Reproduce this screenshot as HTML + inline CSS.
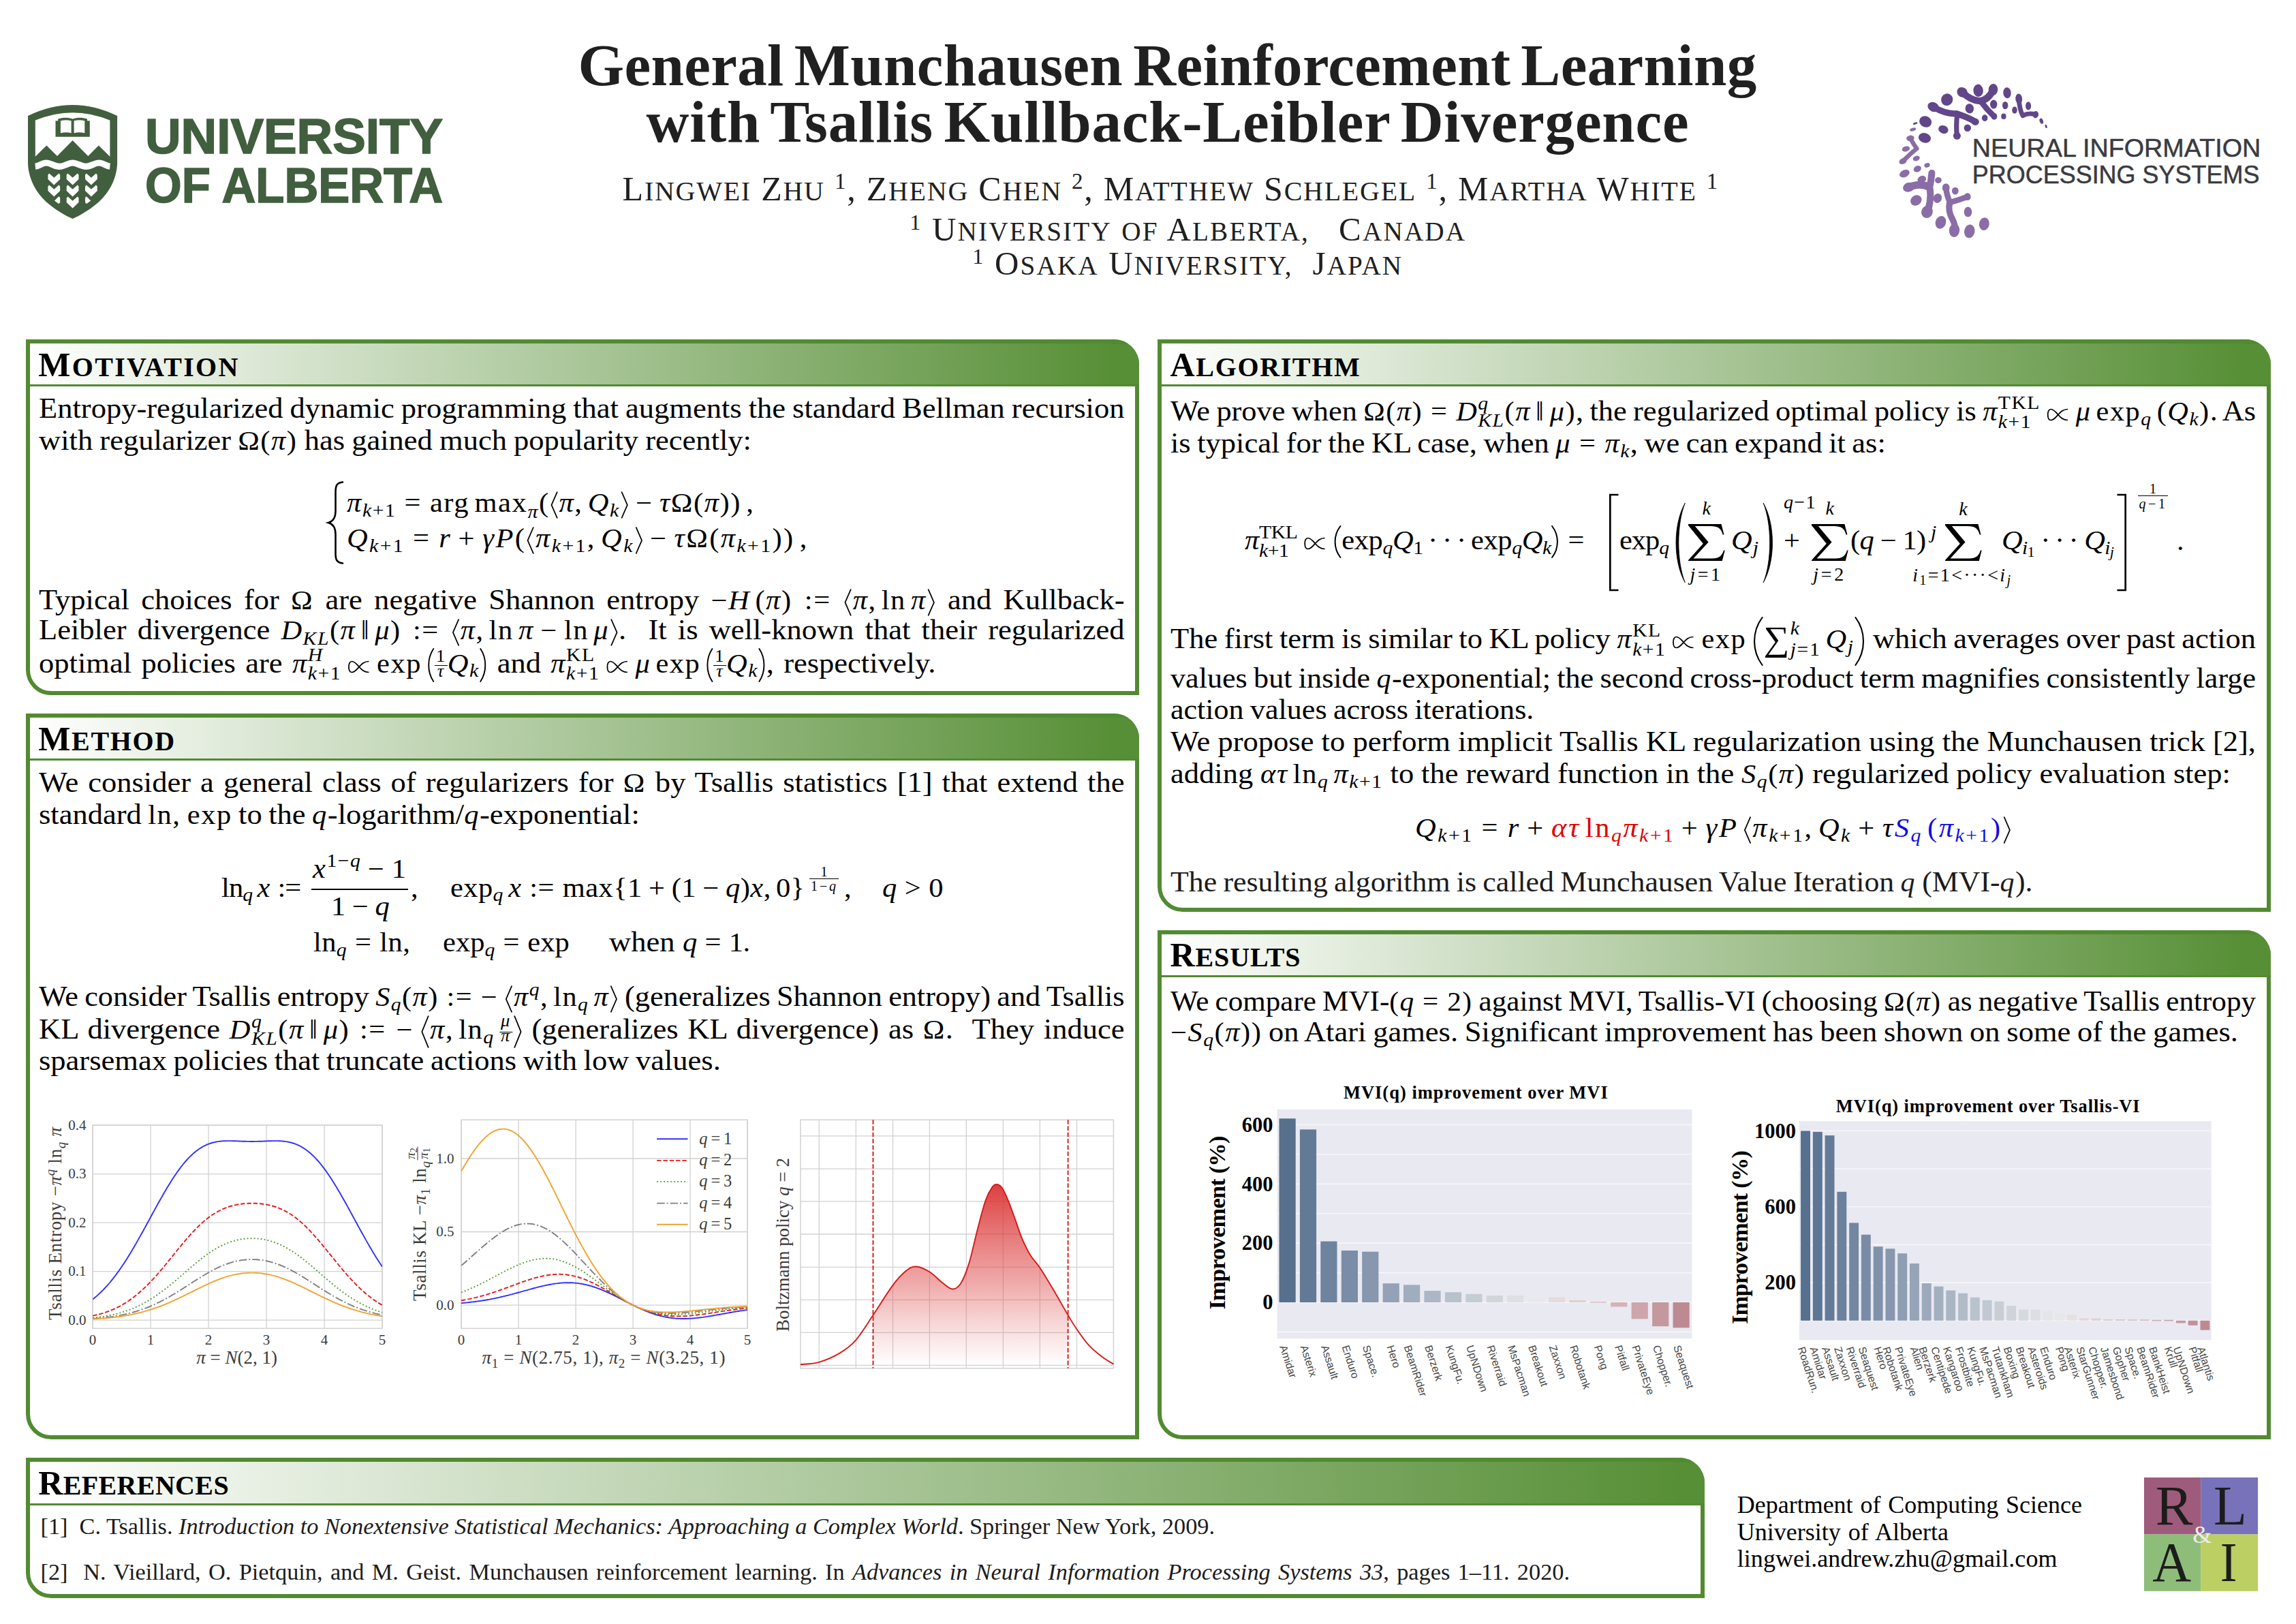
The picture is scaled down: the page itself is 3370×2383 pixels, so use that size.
<!DOCTYPE html><html><head><meta charset="utf-8"><title>General Munchausen Reinforcement Learning with Tsallis Kullback-Leibler Divergence</title><style>

html,body{margin:0;padding:0;background:#fff}
#pg{position:relative;width:3370px;height:2383px;overflow:hidden;background:#fff;font-family:"Liberation Serif",serif;color:#000}
.ln{position:absolute;transform-origin:0 0;height:200px;line-height:200px;white-space:nowrap;font-family:"Liberation Serif",serif}
.ln span,.ln i,.ln b{line-height:0}
.sb{position:relative;line-height:0}
.m{font-size:0.955em;letter-spacing:calc(0.035em + var(--ls,0px))}
.ss{display:inline-block;position:relative;line-height:0}
.ss .su,.ss .sd{position:absolute;left:0;line-height:0;white-space:nowrap}
.ss .sw{visibility:hidden;line-height:0}
svg.g{overflow:visible;display:inline-block}
.fr{display:inline-block;position:relative;line-height:0;padding:0 2px}
.fr .fw{visibility:hidden;line-height:0}
.fr .fn,.fr .fd{position:absolute;left:0;right:0;text-align:center;line-height:0;white-space:nowrap}
.fr .fb{position:absolute;left:0;right:0;height:0;border-top:1.4px solid currentColor}
.box{position:absolute;box-sizing:border-box;border:6.5px solid #528a31;border-radius:0 37px 0 37px;background:#fff;overflow:hidden}
.hd{height:60.5px;background:linear-gradient(90deg,#ffffff 0,#578f36 calc(100% - 33px),#578f36 100%);border-bottom:3.5px solid #528a31}
.abs{position:absolute}

</style></head><body><div id="pg">
<div class="box" style="left:38px;top:497.5px;width:1634px;height:522.5px"><div class="hd"></div></div>
<div class="abs" style="left:1632px;top:497.5px;width:40px;height:69.8px;background:linear-gradient(180deg,#528a31 0,#528a31 6.5px,#578f36 6.5px,#578f36 66.5px,#528a31 66.5px);border-radius:0 37px 0 0"></div>
<div class="box" style="left:38px;top:1046.5px;width:1634px;height:1065.1999999999998px"><div class="hd"></div></div>
<div class="abs" style="left:1632px;top:1046.5px;width:40px;height:69.8px;background:linear-gradient(180deg,#528a31 0,#528a31 6.5px,#578f36 6.5px,#578f36 66.5px,#528a31 66.5px);border-radius:0 37px 0 0"></div>
<div class="box" style="left:1698.5px;top:497.5px;width:1634.1px;height:840.5px"><div class="hd"></div></div>
<div class="abs" style="left:3292.6px;top:497.5px;width:40px;height:69.8px;background:linear-gradient(180deg,#528a31 0,#528a31 6.5px,#578f36 6.5px,#578f36 66.5px,#528a31 66.5px);border-radius:0 37px 0 0"></div>
<div class="box" style="left:1698.5px;top:1364.7px;width:1634.1px;height:746.9999999999998px"><div class="hd"></div></div>
<div class="abs" style="left:3292.6px;top:1364.7px;width:40px;height:69.8px;background:linear-gradient(180deg,#528a31 0,#528a31 6.5px,#578f36 6.5px,#578f36 66.5px,#528a31 66.5px);border-radius:0 37px 0 0"></div>
<div class="box" style="left:38px;top:2139px;width:2464px;height:205.80000000000018px"><div class="hd"></div></div>
<div class="abs" style="left:2462px;top:2139px;width:40px;height:69.8px;background:linear-gradient(180deg,#528a31 0,#528a31 6.5px,#578f36 6.5px,#578f36 66.5px,#528a31 66.5px);border-radius:0 37px 0 0"></div>
<svg class="abs" style="left:478px;top:704px;overflow:visible" width="30" height="126" viewBox="0 0 30 126"><path d="M25 3.5 C16 4.5 14.5 9 14.5 18 L14.5 46 C14.5 56 11 61 4 63 C11 65 14.5 70 14.5 80 L14.5 108 C14.5 117 16 121.5 25 122.5" fill="none" stroke="#000" stroke-width="2.6" stroke-linecap="round"/></svg>
<div class="abs" style="left:457.2px;top:1304px;width:141.9px;height:1.6px;background:#000"></div>
<div class="abs" style="left:1188.3px;top:1288.8px;width:43.1px;height:1.3px;background:#000"></div>
<svg class="abs" style="left:2360px;top:723px" width="18" height="146" viewBox="0 0 18 146"><path d="M15.5 3 H3.3 V143 H15.5" fill="none" stroke="#000" stroke-width="2.7"/></svg>
<svg class="abs" style="left:2453.3px;top:736.6px;overflow:visible" width="21.5" height="119" viewBox="0 0 21.5 119"><path d="M20.3 1.2 C2.6 32.1 2.6 86.9 20.3 117.8 C7.7 86.9 7.7 32.1 20.3 1.2 Z" fill="#000" stroke="#000" stroke-width="0.8" stroke-linejoin="round"/></svg>
<svg class="abs" style="left:2478px;top:768.5px" width="53.7" height="54.8" viewBox="0 0 53.7 54.8" preserveAspectRatio="none"><path d="M0 0 H48.5 L52.5 15.5 H50.6 C48.2 6.2 43.5 3 33 3 H9.8 L29.6 26.6 L7.6 50.6 H35 C45.5 50.6 49.6 46.5 52 38.6 H53.7 L49.6 54.8 H0 V53 L21.8 28.8 L0 1.9 Z" fill="#000"/></svg>
<svg class="abs" style="left:2587px;top:736.6px;overflow:visible" width="21.5" height="119" viewBox="0 0 21.5 119"><path d="M1.2 1.2 C18.9 32.1 18.9 86.9 1.2 117.8 C13.8 86.9 13.8 32.1 1.2 1.2 Z" fill="#000" stroke="#000" stroke-width="0.8" stroke-linejoin="round"/></svg>
<svg class="abs" style="left:2658.9px;top:768.5px" width="53.7" height="54.8" viewBox="0 0 53.7 54.8" preserveAspectRatio="none"><path d="M0 0 H48.5 L52.5 15.5 H50.6 C48.2 6.2 43.5 3 33 3 H9.8 L29.6 26.6 L7.6 50.6 H35 C45.5 50.6 49.6 46.5 52 38.6 H53.7 L49.6 54.8 H0 V53 L21.8 28.8 L0 1.9 Z" fill="#000"/></svg>
<svg class="abs" style="left:2855px;top:768.5px" width="53.7" height="54.8" viewBox="0 0 53.7 54.8" preserveAspectRatio="none"><path d="M0 0 H48.5 L52.5 15.5 H50.6 C48.2 6.2 43.5 3 33 3 H9.8 L29.6 26.6 L7.6 50.6 H35 C45.5 50.6 49.6 46.5 52 38.6 H53.7 L49.6 54.8 H0 V53 L21.8 28.8 L0 1.9 Z" fill="#000"/></svg>
<svg class="abs" style="left:3105px;top:723px" width="18" height="146" viewBox="0 0 18 146"><path d="M2.5 3 H14.7 V143 H2.5" fill="none" stroke="#000" stroke-width="2.7"/></svg>
<div class="abs" style="left:3138.3px;top:726.5px;width:43.4px;height:1.3px;background:#000"></div>
<svg class="abs" style="left:0;top:0" width="3370" height="2383" viewBox="0 0 3370 2383"><line x1="136.1" y1="1651.0" x2="136.1" y2="1949.3" stroke="#d2d2d2" stroke-width="1.3"/>
<line x1="221.1" y1="1651.0" x2="221.1" y2="1949.3" stroke="#d2d2d2" stroke-width="1.3"/>
<line x1="306.1" y1="1651.0" x2="306.1" y2="1949.3" stroke="#d2d2d2" stroke-width="1.3"/>
<line x1="391.1" y1="1651.0" x2="391.1" y2="1949.3" stroke="#d2d2d2" stroke-width="1.3"/>
<line x1="476.1" y1="1651.0" x2="476.1" y2="1949.3" stroke="#d2d2d2" stroke-width="1.3"/>
<line x1="561.1" y1="1651.0" x2="561.1" y2="1949.3" stroke="#d2d2d2" stroke-width="1.3"/>
<line x1="136.1" y1="1937.1" x2="561.0" y2="1937.1" stroke="#d2d2d2" stroke-width="1.3"/>
<line x1="136.1" y1="1865.6" x2="561.0" y2="1865.6" stroke="#d2d2d2" stroke-width="1.3"/>
<line x1="136.1" y1="1794.1" x2="561.0" y2="1794.1" stroke="#d2d2d2" stroke-width="1.3"/>
<line x1="136.1" y1="1722.6" x2="561.0" y2="1722.6" stroke="#d2d2d2" stroke-width="1.3"/>
<line x1="136.1" y1="1651.1" x2="561.0" y2="1651.1" stroke="#d2d2d2" stroke-width="1.3"/>
<rect x="136.1" y="1651.0" width="424.9" height="298.29999999999995" fill="none" stroke="#d2d2d2" stroke-width="1.5"/>
<clipPath id="c1"><rect x="136.1" y="1651.0" width="424.9" height="298.29999999999995"/></clipPath>
<path d="M136.1 1906.5 L137.8 1905.2 L139.5 1903.8 L141.2 1902.4 L142.9 1900.9 L144.6 1899.4 L146.3 1897.8 L148.0 1896.2 L149.7 1894.5 L151.4 1892.8 L153.1 1891.0 L154.8 1889.2 L156.5 1887.4 L158.2 1885.5 L159.9 1883.5 L161.6 1881.5 L163.3 1879.4 L165.0 1877.3 L166.7 1875.2 L168.4 1873.0 L170.1 1870.7 L171.8 1868.4 L173.5 1866.1 L175.2 1863.7 L176.9 1861.3 L178.6 1858.8 L180.3 1856.3 L182.0 1853.7 L183.7 1851.1 L185.4 1848.4 L187.1 1845.8 L188.8 1843.0 L190.5 1840.3 L192.2 1837.5 L193.9 1834.6 L195.6 1831.7 L197.3 1828.8 L199.0 1825.9 L200.7 1822.9 L202.4 1819.9 L204.1 1816.9 L205.8 1813.9 L207.5 1810.8 L209.2 1807.8 L210.9 1804.7 L212.6 1801.6 L214.3 1798.5 L216.0 1795.3 L217.7 1792.2 L219.4 1789.1 L221.1 1786.0 L222.8 1782.8 L224.5 1779.7 L226.2 1776.6 L227.9 1773.5 L229.6 1770.4 L231.3 1767.3 L233.0 1764.2 L234.7 1761.2 L236.4 1758.2 L238.1 1755.2 L239.8 1752.2 L241.5 1749.3 L243.2 1746.4 L244.9 1743.5 L246.6 1740.7 L248.3 1737.9 L250.0 1735.2 L251.7 1732.5 L253.4 1729.8 L255.1 1727.2 L256.8 1724.7 L258.5 1722.2 L260.2 1719.8 L261.9 1717.4 L263.6 1715.1 L265.3 1712.8 L267.0 1710.6 L268.7 1708.5 L270.4 1706.4 L272.1 1704.4 L273.8 1702.5 L275.5 1700.6 L277.2 1698.8 L278.9 1697.1 L280.6 1695.5 L282.3 1693.9 L284.0 1692.3 L285.7 1690.9 L287.4 1689.5 L289.1 1688.2 L290.8 1687.0 L292.5 1685.8 L294.2 1684.7 L295.9 1683.6 L297.6 1682.7 L299.3 1681.7 L301.0 1680.9 L302.7 1680.1 L304.4 1679.4 L306.1 1678.7 L307.8 1678.1 L309.5 1677.5 L311.2 1677.0 L312.9 1676.5 L314.6 1676.1 L316.3 1675.7 L318.0 1675.4 L319.7 1675.1 L321.4 1674.9 L323.1 1674.7 L324.8 1674.5 L326.5 1674.4 L328.2 1674.3 L329.9 1674.2 L331.6 1674.1 L333.3 1674.1 L335.0 1674.1 L336.7 1674.1 L338.4 1674.1 L340.1 1674.1 L341.8 1674.2 L343.5 1674.2 L345.2 1674.3 L346.9 1674.3 L348.6 1674.4 L350.3 1674.5 L352.0 1674.5 L353.7 1674.6 L355.4 1674.7 L357.1 1674.7 L358.8 1674.8 L360.5 1674.8 L362.2 1674.9 L363.9 1674.9 L365.6 1674.9 L367.3 1675.0 L369.0 1675.0 L370.7 1675.0 L372.4 1675.0 L374.1 1674.9 L375.8 1674.9 L377.5 1674.9 L379.2 1674.8 L380.9 1674.8 L382.6 1674.7 L384.3 1674.7 L386.0 1674.6 L387.7 1674.5 L389.4 1674.5 L391.1 1674.4 L392.8 1674.3 L394.5 1674.3 L396.2 1674.2 L397.9 1674.2 L399.6 1674.1 L401.3 1674.1 L403.0 1674.1 L404.7 1674.1 L406.4 1674.1 L408.1 1674.1 L409.8 1674.2 L411.5 1674.3 L413.2 1674.4 L414.9 1674.5 L416.6 1674.7 L418.3 1674.9 L420.0 1675.1 L421.7 1675.4 L423.4 1675.7 L425.1 1676.1 L426.8 1676.5 L428.5 1677.0 L430.2 1677.5 L431.9 1678.1 L433.6 1678.7 L435.3 1679.4 L437.0 1680.1 L438.7 1680.9 L440.4 1681.7 L442.1 1682.7 L443.8 1683.6 L445.5 1684.7 L447.2 1685.8 L448.9 1687.0 L450.6 1688.2 L452.3 1689.5 L454.0 1690.9 L455.7 1692.3 L457.4 1693.9 L459.1 1695.5 L460.8 1697.1 L462.5 1698.8 L464.2 1700.6 L465.9 1702.5 L467.6 1704.4 L469.3 1706.4 L471.0 1708.5 L472.7 1710.6 L474.4 1712.8 L476.1 1715.1 L477.8 1717.4 L479.5 1719.8 L481.2 1722.2 L482.9 1724.7 L484.6 1727.2 L486.3 1729.8 L488.0 1732.5 L489.7 1735.2 L491.4 1737.9 L493.1 1740.7 L494.8 1743.5 L496.5 1746.4 L498.2 1749.3 L499.9 1752.2 L501.6 1755.2 L503.3 1758.2 L505.0 1761.2 L506.7 1764.2 L508.4 1767.3 L510.1 1770.4 L511.8 1773.5 L513.5 1776.6 L515.2 1779.7 L516.9 1782.8 L518.6 1786.0 L520.3 1789.1 L522.0 1792.2 L523.7 1795.3 L525.4 1798.5 L527.1 1801.6 L528.8 1804.7 L530.5 1807.8 L532.2 1810.8 L533.9 1813.9 L535.6 1816.9 L537.3 1819.9 L539.0 1822.9 L540.7 1825.9 L542.4 1828.8 L544.1 1831.7 L545.8 1834.6 L547.5 1837.5 L549.2 1840.3 L550.9 1843.0 L552.6 1845.8 L554.3 1848.4 L556.0 1851.1 L557.7 1853.7 L559.4 1856.3 L561.1 1858.8" fill="none" stroke="#2f2fff" stroke-width="1.9" stroke-linejoin="round" clip-path="url(#c1)"/>
<path d="M136.1 1930.7 L137.8 1930.3 L139.5 1929.9 L141.2 1929.5 L142.9 1929.1 L144.6 1928.7 L146.3 1928.2 L148.0 1927.8 L149.7 1927.3 L151.4 1926.8 L153.1 1926.2 L154.8 1925.7 L156.5 1925.1 L158.2 1924.5 L159.9 1923.9 L161.6 1923.2 L163.3 1922.5 L165.0 1921.8 L166.7 1921.1 L168.4 1920.3 L170.1 1919.5 L171.8 1918.7 L173.5 1917.9 L175.2 1917.0 L176.9 1916.1 L178.6 1915.1 L180.3 1914.2 L182.0 1913.1 L183.7 1912.1 L185.4 1911.0 L187.1 1909.9 L188.8 1908.8 L190.5 1907.6 L192.2 1906.4 L193.9 1905.2 L195.6 1903.9 L197.3 1902.6 L199.0 1901.3 L200.7 1899.9 L202.4 1898.5 L204.1 1897.0 L205.8 1895.5 L207.5 1894.0 L209.2 1892.5 L210.9 1890.9 L212.6 1889.3 L214.3 1887.6 L216.0 1886.0 L217.7 1884.2 L219.4 1882.5 L221.1 1880.7 L222.8 1878.9 L224.5 1877.1 L226.2 1875.2 L227.9 1873.4 L229.6 1871.5 L231.3 1869.5 L233.0 1867.6 L234.7 1865.6 L236.4 1863.6 L238.1 1861.6 L239.8 1859.6 L241.5 1857.5 L243.2 1855.5 L244.9 1853.4 L246.6 1851.3 L248.3 1849.2 L250.0 1847.1 L251.7 1845.0 L253.4 1842.9 L255.1 1840.8 L256.8 1838.7 L258.5 1836.6 L260.2 1834.5 L261.9 1832.4 L263.6 1830.4 L265.3 1828.3 L267.0 1826.2 L268.7 1824.2 L270.4 1822.2 L272.1 1820.2 L273.8 1818.2 L275.5 1816.2 L277.2 1814.3 L278.9 1812.4 L280.6 1810.5 L282.3 1808.7 L284.0 1806.9 L285.7 1805.1 L287.4 1803.3 L289.1 1801.6 L290.8 1799.9 L292.5 1798.3 L294.2 1796.7 L295.9 1795.1 L297.6 1793.6 L299.3 1792.1 L301.0 1790.7 L302.7 1789.3 L304.4 1787.9 L306.1 1786.6 L307.8 1785.4 L309.5 1784.1 L311.2 1783.0 L312.9 1781.8 L314.6 1780.8 L316.3 1779.7 L318.0 1778.7 L319.7 1777.8 L321.4 1776.9 L323.1 1776.0 L324.8 1775.2 L326.5 1774.4 L328.2 1773.6 L329.9 1772.9 L331.6 1772.3 L333.3 1771.6 L335.0 1771.0 L336.7 1770.5 L338.4 1770.0 L340.1 1769.5 L341.8 1769.0 L343.5 1768.6 L345.2 1768.2 L346.9 1767.9 L348.6 1767.5 L350.3 1767.2 L352.0 1767.0 L353.7 1766.7 L355.4 1766.5 L357.1 1766.3 L358.8 1766.1 L360.5 1766.0 L362.2 1765.9 L363.9 1765.8 L365.6 1765.7 L367.3 1765.7 L369.0 1765.7 L370.7 1765.7 L372.4 1765.7 L374.1 1765.7 L375.8 1765.8 L377.5 1765.9 L379.2 1766.0 L380.9 1766.1 L382.6 1766.3 L384.3 1766.5 L386.0 1766.7 L387.7 1767.0 L389.4 1767.2 L391.1 1767.5 L392.8 1767.9 L394.5 1768.2 L396.2 1768.6 L397.9 1769.0 L399.6 1769.5 L401.3 1770.0 L403.0 1770.5 L404.7 1771.0 L406.4 1771.6 L408.1 1772.3 L409.8 1772.9 L411.5 1773.6 L413.2 1774.4 L414.9 1775.2 L416.6 1776.0 L418.3 1776.9 L420.0 1777.8 L421.7 1778.7 L423.4 1779.7 L425.1 1780.8 L426.8 1781.8 L428.5 1783.0 L430.2 1784.1 L431.9 1785.4 L433.6 1786.6 L435.3 1787.9 L437.0 1789.3 L438.7 1790.7 L440.4 1792.1 L442.1 1793.6 L443.8 1795.1 L445.5 1796.7 L447.2 1798.3 L448.9 1799.9 L450.6 1801.6 L452.3 1803.3 L454.0 1805.1 L455.7 1806.9 L457.4 1808.7 L459.1 1810.5 L460.8 1812.4 L462.5 1814.3 L464.2 1816.2 L465.9 1818.2 L467.6 1820.2 L469.3 1822.2 L471.0 1824.2 L472.7 1826.2 L474.4 1828.3 L476.1 1830.4 L477.8 1832.4 L479.5 1834.5 L481.2 1836.6 L482.9 1838.7 L484.6 1840.8 L486.3 1842.9 L488.0 1845.0 L489.7 1847.1 L491.4 1849.2 L493.1 1851.3 L494.8 1853.4 L496.5 1855.5 L498.2 1857.5 L499.9 1859.6 L501.6 1861.6 L503.3 1863.6 L505.0 1865.6 L506.7 1867.6 L508.4 1869.5 L510.1 1871.5 L511.8 1873.4 L513.5 1875.2 L515.2 1877.1 L516.9 1878.9 L518.6 1880.7 L520.3 1882.5 L522.0 1884.2 L523.7 1886.0 L525.4 1887.6 L527.1 1889.3 L528.8 1890.9 L530.5 1892.5 L532.2 1894.0 L533.9 1895.5 L535.6 1897.0 L537.3 1898.5 L539.0 1899.9 L540.7 1901.3 L542.4 1902.6 L544.1 1903.9 L545.8 1905.2 L547.5 1906.4 L549.2 1907.6 L550.9 1908.8 L552.6 1909.9 L554.3 1911.0 L556.0 1912.1 L557.7 1913.1 L559.4 1914.2 L561.1 1915.1" fill="none" stroke="#e31a1c" stroke-width="1.9" stroke-dasharray="6.5 2.8" stroke-linejoin="round" clip-path="url(#c1)"/>
<path d="M136.1 1933.8 L137.8 1933.7 L139.5 1933.5 L141.2 1933.3 L142.9 1933.1 L144.6 1932.8 L146.3 1932.6 L148.0 1932.4 L149.7 1932.1 L151.4 1931.9 L153.1 1931.6 L154.8 1931.3 L156.5 1931.0 L158.2 1930.7 L159.9 1930.4 L161.6 1930.0 L163.3 1929.7 L165.0 1929.3 L166.7 1928.9 L168.4 1928.5 L170.1 1928.1 L171.8 1927.7 L173.5 1927.2 L175.2 1926.7 L176.9 1926.3 L178.6 1925.8 L180.3 1925.2 L182.0 1924.7 L183.7 1924.2 L185.4 1923.6 L187.1 1923.0 L188.8 1922.4 L190.5 1921.7 L192.2 1921.1 L193.9 1920.4 L195.6 1919.7 L197.3 1919.0 L199.0 1918.2 L200.7 1917.5 L202.4 1916.7 L204.1 1915.9 L205.8 1915.0 L207.5 1914.2 L209.2 1913.3 L210.9 1912.4 L212.6 1911.5 L214.3 1910.5 L216.0 1909.5 L217.7 1908.5 L219.4 1907.5 L221.1 1906.5 L222.8 1905.4 L224.5 1904.3 L226.2 1903.2 L227.9 1902.1 L229.6 1900.9 L231.3 1899.7 L233.0 1898.5 L234.7 1897.3 L236.4 1896.1 L238.1 1894.8 L239.8 1893.5 L241.5 1892.2 L243.2 1890.9 L244.9 1889.6 L246.6 1888.2 L248.3 1886.9 L250.0 1885.5 L251.7 1884.1 L253.4 1882.7 L255.1 1881.2 L256.8 1879.8 L258.5 1878.4 L260.2 1876.9 L261.9 1875.4 L263.6 1874.0 L265.3 1872.5 L267.0 1871.0 L268.7 1869.6 L270.4 1868.1 L272.1 1866.6 L273.8 1865.1 L275.5 1863.6 L277.2 1862.2 L278.9 1860.7 L280.6 1859.3 L282.3 1857.8 L284.0 1856.4 L285.7 1854.9 L287.4 1853.5 L289.1 1852.1 L290.8 1850.8 L292.5 1849.4 L294.2 1848.0 L295.9 1846.7 L297.6 1845.4 L299.3 1844.1 L301.0 1842.8 L302.7 1841.6 L304.4 1840.4 L306.1 1839.2 L307.8 1838.0 L309.5 1836.9 L311.2 1835.8 L312.9 1834.7 L314.6 1833.7 L316.3 1832.7 L318.0 1831.7 L319.7 1830.7 L321.4 1829.8 L323.1 1828.9 L324.8 1828.1 L326.5 1827.2 L328.2 1826.4 L329.9 1825.7 L331.6 1825.0 L333.3 1824.3 L335.0 1823.6 L336.7 1823.0 L338.4 1822.4 L340.1 1821.8 L341.8 1821.3 L343.5 1820.8 L345.2 1820.4 L346.9 1819.9 L348.6 1819.5 L350.3 1819.2 L352.0 1818.8 L353.7 1818.5 L355.4 1818.3 L357.1 1818.0 L358.8 1817.8 L360.5 1817.6 L362.2 1817.5 L363.9 1817.4 L365.6 1817.3 L367.3 1817.2 L369.0 1817.2 L370.7 1817.2 L372.4 1817.2 L374.1 1817.3 L375.8 1817.4 L377.5 1817.5 L379.2 1817.6 L380.9 1817.8 L382.6 1818.0 L384.3 1818.3 L386.0 1818.5 L387.7 1818.8 L389.4 1819.2 L391.1 1819.5 L392.8 1819.9 L394.5 1820.4 L396.2 1820.8 L397.9 1821.3 L399.6 1821.8 L401.3 1822.4 L403.0 1823.0 L404.7 1823.6 L406.4 1824.3 L408.1 1825.0 L409.8 1825.7 L411.5 1826.4 L413.2 1827.2 L414.9 1828.1 L416.6 1828.9 L418.3 1829.8 L420.0 1830.7 L421.7 1831.7 L423.4 1832.7 L425.1 1833.7 L426.8 1834.7 L428.5 1835.8 L430.2 1836.9 L431.9 1838.0 L433.6 1839.2 L435.3 1840.4 L437.0 1841.6 L438.7 1842.8 L440.4 1844.1 L442.1 1845.4 L443.8 1846.7 L445.5 1848.0 L447.2 1849.4 L448.9 1850.8 L450.6 1852.1 L452.3 1853.5 L454.0 1854.9 L455.7 1856.4 L457.4 1857.8 L459.1 1859.3 L460.8 1860.7 L462.5 1862.2 L464.2 1863.6 L465.9 1865.1 L467.6 1866.6 L469.3 1868.1 L471.0 1869.6 L472.7 1871.0 L474.4 1872.5 L476.1 1874.0 L477.8 1875.4 L479.5 1876.9 L481.2 1878.4 L482.9 1879.8 L484.6 1881.2 L486.3 1882.7 L488.0 1884.1 L489.7 1885.5 L491.4 1886.9 L493.1 1888.2 L494.8 1889.6 L496.5 1890.9 L498.2 1892.2 L499.9 1893.5 L501.6 1894.8 L503.3 1896.1 L505.0 1897.3 L506.7 1898.5 L508.4 1899.7 L510.1 1900.9 L511.8 1902.1 L513.5 1903.2 L515.2 1904.3 L516.9 1905.4 L518.6 1906.5 L520.3 1907.5 L522.0 1908.5 L523.7 1909.5 L525.4 1910.5 L527.1 1911.5 L528.8 1912.4 L530.5 1913.3 L532.2 1914.2 L533.9 1915.0 L535.6 1915.9 L537.3 1916.7 L539.0 1917.5 L540.7 1918.2 L542.4 1919.0 L544.1 1919.7 L545.8 1920.4 L547.5 1921.1 L549.2 1921.7 L550.9 1922.4 L552.6 1923.0 L554.3 1923.6 L556.0 1924.2 L557.7 1924.7 L559.4 1925.2 L561.1 1925.8" fill="none" stroke="#4f9a2f" stroke-width="1.9" stroke-dasharray="1.9 3.1" stroke-linejoin="round" clip-path="url(#c1)"/>
<path d="M136.1 1934.9 L137.8 1934.8 L139.5 1934.7 L141.2 1934.5 L142.9 1934.4 L144.6 1934.3 L146.3 1934.1 L148.0 1933.9 L149.7 1933.8 L151.4 1933.6 L153.1 1933.4 L154.8 1933.2 L156.5 1933.0 L158.2 1932.8 L159.9 1932.6 L161.6 1932.4 L163.3 1932.1 L165.0 1931.9 L166.7 1931.6 L168.4 1931.4 L170.1 1931.1 L171.8 1930.8 L173.5 1930.5 L175.2 1930.2 L176.9 1929.9 L178.6 1929.5 L180.3 1929.2 L182.0 1928.8 L183.7 1928.5 L185.4 1928.1 L187.1 1927.7 L188.8 1927.3 L190.5 1926.8 L192.2 1926.4 L193.9 1925.9 L195.6 1925.5 L197.3 1925.0 L199.0 1924.5 L200.7 1924.0 L202.4 1923.4 L204.1 1922.9 L205.8 1922.3 L207.5 1921.8 L209.2 1921.2 L210.9 1920.6 L212.6 1919.9 L214.3 1919.3 L216.0 1918.6 L217.7 1918.0 L219.4 1917.3 L221.1 1916.6 L222.8 1915.8 L224.5 1915.1 L226.2 1914.3 L227.9 1913.5 L229.6 1912.8 L231.3 1911.9 L233.0 1911.1 L234.7 1910.3 L236.4 1909.4 L238.1 1908.5 L239.8 1907.7 L241.5 1906.8 L243.2 1905.8 L244.9 1904.9 L246.6 1904.0 L248.3 1903.0 L250.0 1902.0 L251.7 1901.0 L253.4 1900.0 L255.1 1899.0 L256.8 1898.0 L258.5 1897.0 L260.2 1895.9 L261.9 1894.9 L263.6 1893.8 L265.3 1892.8 L267.0 1891.7 L268.7 1890.6 L270.4 1889.5 L272.1 1888.4 L273.8 1887.4 L275.5 1886.3 L277.2 1885.2 L278.9 1884.1 L280.6 1883.0 L282.3 1881.9 L284.0 1880.8 L285.7 1879.7 L287.4 1878.6 L289.1 1877.5 L290.8 1876.5 L292.5 1875.4 L294.2 1874.4 L295.9 1873.3 L297.6 1872.3 L299.3 1871.2 L301.0 1870.2 L302.7 1869.2 L304.4 1868.3 L306.1 1867.3 L307.8 1866.3 L309.5 1865.4 L311.2 1864.5 L312.9 1863.6 L314.6 1862.7 L316.3 1861.9 L318.0 1861.0 L319.7 1860.2 L321.4 1859.4 L323.1 1858.7 L324.8 1857.9 L326.5 1857.2 L328.2 1856.5 L329.9 1855.8 L331.6 1855.2 L333.3 1854.6 L335.0 1854.0 L336.7 1853.4 L338.4 1852.9 L340.1 1852.4 L341.8 1851.9 L343.5 1851.5 L345.2 1851.0 L346.9 1850.6 L348.6 1850.3 L350.3 1849.9 L352.0 1849.6 L353.7 1849.3 L355.4 1849.1 L357.1 1848.9 L358.8 1848.7 L360.5 1848.5 L362.2 1848.3 L363.9 1848.2 L365.6 1848.1 L367.3 1848.1 L369.0 1848.1 L370.7 1848.1 L372.4 1848.1 L374.1 1848.1 L375.8 1848.2 L377.5 1848.3 L379.2 1848.5 L380.9 1848.7 L382.6 1848.9 L384.3 1849.1 L386.0 1849.3 L387.7 1849.6 L389.4 1849.9 L391.1 1850.3 L392.8 1850.6 L394.5 1851.0 L396.2 1851.5 L397.9 1851.9 L399.6 1852.4 L401.3 1852.9 L403.0 1853.4 L404.7 1854.0 L406.4 1854.6 L408.1 1855.2 L409.8 1855.8 L411.5 1856.5 L413.2 1857.2 L414.9 1857.9 L416.6 1858.7 L418.3 1859.4 L420.0 1860.2 L421.7 1861.0 L423.4 1861.9 L425.1 1862.7 L426.8 1863.6 L428.5 1864.5 L430.2 1865.4 L431.9 1866.3 L433.6 1867.3 L435.3 1868.3 L437.0 1869.2 L438.7 1870.2 L440.4 1871.2 L442.1 1872.3 L443.8 1873.3 L445.5 1874.4 L447.2 1875.4 L448.9 1876.5 L450.6 1877.5 L452.3 1878.6 L454.0 1879.7 L455.7 1880.8 L457.4 1881.9 L459.1 1883.0 L460.8 1884.1 L462.5 1885.2 L464.2 1886.3 L465.9 1887.4 L467.6 1888.4 L469.3 1889.5 L471.0 1890.6 L472.7 1891.7 L474.4 1892.8 L476.1 1893.8 L477.8 1894.9 L479.5 1895.9 L481.2 1897.0 L482.9 1898.0 L484.6 1899.0 L486.3 1900.0 L488.0 1901.0 L489.7 1902.0 L491.4 1903.0 L493.1 1904.0 L494.8 1904.9 L496.5 1905.8 L498.2 1906.8 L499.9 1907.7 L501.6 1908.5 L503.3 1909.4 L505.0 1910.3 L506.7 1911.1 L508.4 1911.9 L510.1 1912.8 L511.8 1913.5 L513.5 1914.3 L515.2 1915.1 L516.9 1915.8 L518.6 1916.6 L520.3 1917.3 L522.0 1918.0 L523.7 1918.6 L525.4 1919.3 L527.1 1919.9 L528.8 1920.6 L530.5 1921.2 L532.2 1921.8 L533.9 1922.3 L535.6 1922.9 L537.3 1923.4 L539.0 1924.0 L540.7 1924.5 L542.4 1925.0 L544.1 1925.5 L545.8 1925.9 L547.5 1926.4 L549.2 1926.8 L550.9 1927.3 L552.6 1927.7 L554.3 1928.1 L556.0 1928.5 L557.7 1928.8 L559.4 1929.2 L561.1 1929.5" fill="none" stroke="#7f7f7f" stroke-width="1.9" stroke-dasharray="11.5 3 2 3" stroke-linejoin="round" clip-path="url(#c1)"/>
<path d="M136.1 1935.5 L137.8 1935.4 L139.5 1935.3 L141.2 1935.2 L142.9 1935.1 L144.6 1935.0 L146.3 1934.9 L148.0 1934.7 L149.7 1934.6 L151.4 1934.5 L153.1 1934.3 L154.8 1934.2 L156.5 1934.0 L158.2 1933.9 L159.9 1933.7 L161.6 1933.6 L163.3 1933.4 L165.0 1933.2 L166.7 1933.0 L168.4 1932.8 L170.1 1932.6 L171.8 1932.4 L173.5 1932.2 L175.2 1931.9 L176.9 1931.7 L178.6 1931.4 L180.3 1931.2 L182.0 1930.9 L183.7 1930.6 L185.4 1930.3 L187.1 1930.0 L188.8 1929.7 L190.5 1929.4 L192.2 1929.1 L193.9 1928.7 L195.6 1928.4 L197.3 1928.0 L199.0 1927.6 L200.7 1927.3 L202.4 1926.9 L204.1 1926.4 L205.8 1926.0 L207.5 1925.6 L209.2 1925.1 L210.9 1924.7 L212.6 1924.2 L214.3 1923.7 L216.0 1923.2 L217.7 1922.7 L219.4 1922.2 L221.1 1921.7 L222.8 1921.1 L224.5 1920.6 L226.2 1920.0 L227.9 1919.4 L229.6 1918.8 L231.3 1918.2 L233.0 1917.6 L234.7 1917.0 L236.4 1916.3 L238.1 1915.7 L239.8 1915.0 L241.5 1914.3 L243.2 1913.6 L244.9 1912.9 L246.6 1912.2 L248.3 1911.5 L250.0 1910.7 L251.7 1910.0 L253.4 1909.2 L255.1 1908.5 L256.8 1907.7 L258.5 1906.9 L260.2 1906.1 L261.9 1905.3 L263.6 1904.5 L265.3 1903.7 L267.0 1902.9 L268.7 1902.0 L270.4 1901.2 L272.1 1900.4 L273.8 1899.5 L275.5 1898.7 L277.2 1897.8 L278.9 1897.0 L280.6 1896.1 L282.3 1895.3 L284.0 1894.4 L285.7 1893.6 L287.4 1892.7 L289.1 1891.9 L290.8 1891.0 L292.5 1890.2 L294.2 1889.4 L295.9 1888.5 L297.6 1887.7 L299.3 1886.9 L301.0 1886.1 L302.7 1885.3 L304.4 1884.5 L306.1 1883.7 L307.8 1882.9 L309.5 1882.2 L311.2 1881.4 L312.9 1880.7 L314.6 1880.0 L316.3 1879.3 L318.0 1878.6 L319.7 1877.9 L321.4 1877.3 L323.1 1876.6 L324.8 1876.0 L326.5 1875.4 L328.2 1874.8 L329.9 1874.3 L331.6 1873.7 L333.3 1873.2 L335.0 1872.7 L336.7 1872.2 L338.4 1871.8 L340.1 1871.4 L341.8 1870.9 L343.5 1870.6 L345.2 1870.2 L346.9 1869.8 L348.6 1869.5 L350.3 1869.2 L352.0 1869.0 L353.7 1868.7 L355.4 1868.5 L357.1 1868.3 L358.8 1868.1 L360.5 1868.0 L362.2 1867.8 L363.9 1867.7 L365.6 1867.7 L367.3 1867.6 L369.0 1867.6 L370.7 1867.6 L372.4 1867.6 L374.1 1867.7 L375.8 1867.7 L377.5 1867.8 L379.2 1868.0 L380.9 1868.1 L382.6 1868.3 L384.3 1868.5 L386.0 1868.7 L387.7 1869.0 L389.4 1869.2 L391.1 1869.5 L392.8 1869.8 L394.5 1870.2 L396.2 1870.6 L397.9 1870.9 L399.6 1871.4 L401.3 1871.8 L403.0 1872.2 L404.7 1872.7 L406.4 1873.2 L408.1 1873.7 L409.8 1874.3 L411.5 1874.8 L413.2 1875.4 L414.9 1876.0 L416.6 1876.6 L418.3 1877.3 L420.0 1877.9 L421.7 1878.6 L423.4 1879.3 L425.1 1880.0 L426.8 1880.7 L428.5 1881.4 L430.2 1882.2 L431.9 1882.9 L433.6 1883.7 L435.3 1884.5 L437.0 1885.3 L438.7 1886.1 L440.4 1886.9 L442.1 1887.7 L443.8 1888.5 L445.5 1889.4 L447.2 1890.2 L448.9 1891.0 L450.6 1891.9 L452.3 1892.7 L454.0 1893.6 L455.7 1894.4 L457.4 1895.3 L459.1 1896.1 L460.8 1897.0 L462.5 1897.8 L464.2 1898.7 L465.9 1899.5 L467.6 1900.4 L469.3 1901.2 L471.0 1902.0 L472.7 1902.9 L474.4 1903.7 L476.1 1904.5 L477.8 1905.3 L479.5 1906.1 L481.2 1906.9 L482.9 1907.7 L484.6 1908.5 L486.3 1909.2 L488.0 1910.0 L489.7 1910.7 L491.4 1911.5 L493.1 1912.2 L494.8 1912.9 L496.5 1913.6 L498.2 1914.3 L499.9 1915.0 L501.6 1915.7 L503.3 1916.3 L505.0 1917.0 L506.7 1917.6 L508.4 1918.2 L510.1 1918.8 L511.8 1919.4 L513.5 1920.0 L515.2 1920.6 L516.9 1921.1 L518.6 1921.7 L520.3 1922.2 L522.0 1922.7 L523.7 1923.2 L525.4 1923.7 L527.1 1924.2 L528.8 1924.7 L530.5 1925.1 L532.2 1925.6 L533.9 1926.0 L535.6 1926.4 L537.3 1926.9 L539.0 1927.3 L540.7 1927.6 L542.4 1928.0 L544.1 1928.4 L545.8 1928.7 L547.5 1929.1 L549.2 1929.4 L550.9 1929.7 L552.6 1930.0 L554.3 1930.3 L556.0 1930.6 L557.7 1930.9 L559.4 1931.2 L561.1 1931.4" fill="none" stroke="#f0a22e" stroke-width="1.9" stroke-linejoin="round" clip-path="url(#c1)"/>
<text x="136.1" y="1972.6" font-family="Liberation Serif" font-size="21" text-anchor="middle" fill="#3a3a3a" >0</text>
<text x="221.1" y="1972.6" font-family="Liberation Serif" font-size="21" text-anchor="middle" fill="#3a3a3a" >1</text>
<text x="306.1" y="1972.6" font-family="Liberation Serif" font-size="21" text-anchor="middle" fill="#3a3a3a" >2</text>
<text x="391.1" y="1972.6" font-family="Liberation Serif" font-size="21" text-anchor="middle" fill="#3a3a3a" >3</text>
<text x="476.1" y="1972.6" font-family="Liberation Serif" font-size="21" text-anchor="middle" fill="#3a3a3a" >4</text>
<text x="561.1" y="1972.6" font-family="Liberation Serif" font-size="21" text-anchor="middle" fill="#3a3a3a" >5</text>
<text x="126.5" y="1943.6" font-family="Liberation Serif" font-size="21" text-anchor="end" fill="#3a3a3a" >0.0</text>
<text x="126.5" y="1872.1" font-family="Liberation Serif" font-size="21" text-anchor="end" fill="#3a3a3a" >0.1</text>
<text x="126.5" y="1800.6" font-family="Liberation Serif" font-size="21" text-anchor="end" fill="#3a3a3a" >0.2</text>
<text x="126.5" y="1729.1" font-family="Liberation Serif" font-size="21" text-anchor="end" fill="#3a3a3a" >0.3</text>
<text x="126.5" y="1657.6" font-family="Liberation Serif" font-size="21" text-anchor="end" fill="#3a3a3a" >0.4</text>
<text x="347.6" y="2000.8" font-family="Liberation Serif" font-size="27" text-anchor="middle" fill="#3a3a3a" ><tspan font-style="italic">π</tspan> = <tspan font-style="italic">N</tspan>(2, 1)</text>
<text transform="translate(89.5,1795.5) rotate(-90)" font-family="Liberation Serif" font-size="27" text-anchor="middle" fill="#3a3a3a" textLength="283" lengthAdjust="spacing">Tsallis Entropy −<tspan font-style="italic">π</tspan><tspan font-size="19" dy="-10" font-style="italic">q</tspan><tspan dy="10"> ln</tspan><tspan font-size="19" dy="6" font-style="italic">q</tspan><tspan dy="-6"> </tspan><tspan font-style="italic">π</tspan></text>
<line x1="677.1" y1="1643.2" x2="677.1" y2="1949.3" stroke="#d2d2d2" stroke-width="1.3"/>
<line x1="761.1" y1="1643.2" x2="761.1" y2="1949.3" stroke="#d2d2d2" stroke-width="1.3"/>
<line x1="845.1" y1="1643.2" x2="845.1" y2="1949.3" stroke="#d2d2d2" stroke-width="1.3"/>
<line x1="929.1" y1="1643.2" x2="929.1" y2="1949.3" stroke="#d2d2d2" stroke-width="1.3"/>
<line x1="1013.1" y1="1643.2" x2="1013.1" y2="1949.3" stroke="#d2d2d2" stroke-width="1.3"/>
<line x1="1097.1" y1="1643.2" x2="1097.1" y2="1949.3" stroke="#d2d2d2" stroke-width="1.3"/>
<line x1="677.1" y1="1915.1" x2="1097.1" y2="1915.1" stroke="#d2d2d2" stroke-width="1.3"/>
<line x1="677.1" y1="1807.5" x2="1097.1" y2="1807.5" stroke="#d2d2d2" stroke-width="1.3"/>
<line x1="677.1" y1="1700.0" x2="1097.1" y2="1700.0" stroke="#d2d2d2" stroke-width="1.3"/>
<rect x="677.1" y="1643.2" width="419.9999999999999" height="306.0999999999999" fill="none" stroke="#d2d2d2" stroke-width="1.5"/>
<clipPath id="c2"><rect x="677.1" y="1643.2" width="419.9999999999999" height="306.0999999999999"/></clipPath>
<path d="M677.1 1912.2 L678.8 1912.0 L680.5 1911.9 L682.1 1911.7 L683.8 1911.6 L685.5 1911.4 L687.2 1911.2 L688.9 1911.0 L690.5 1910.8 L692.2 1910.6 L693.9 1910.4 L695.6 1910.2 L697.3 1910.0 L698.9 1909.8 L700.6 1909.6 L702.3 1909.3 L704.0 1909.1 L705.7 1908.8 L707.3 1908.6 L709.0 1908.3 L710.7 1908.0 L712.4 1907.8 L714.1 1907.5 L715.7 1907.2 L717.4 1906.9 L719.1 1906.6 L720.8 1906.2 L722.5 1905.9 L724.1 1905.6 L725.8 1905.2 L727.5 1904.9 L729.2 1904.5 L730.9 1904.2 L732.5 1903.8 L734.2 1903.4 L735.9 1903.0 L737.6 1902.6 L739.3 1902.2 L740.9 1901.8 L742.6 1901.4 L744.3 1901.0 L746.0 1900.6 L747.7 1900.1 L749.3 1899.7 L751.0 1899.3 L752.7 1898.8 L754.4 1898.4 L756.1 1897.9 L757.7 1897.5 L759.4 1897.0 L761.1 1896.5 L762.8 1896.1 L764.5 1895.6 L766.1 1895.1 L767.8 1894.7 L769.5 1894.2 L771.2 1893.7 L772.9 1893.3 L774.5 1892.8 L776.2 1892.3 L777.9 1891.9 L779.6 1891.4 L781.3 1891.0 L782.9 1890.5 L784.6 1890.0 L786.3 1889.6 L788.0 1889.2 L789.7 1888.7 L791.3 1888.3 L793.0 1887.9 L794.7 1887.5 L796.4 1887.1 L798.1 1886.7 L799.7 1886.3 L801.4 1886.0 L803.1 1885.6 L804.8 1885.3 L806.5 1885.0 L808.1 1884.7 L809.8 1884.4 L811.5 1884.1 L813.2 1883.8 L814.9 1883.6 L816.5 1883.4 L818.2 1883.1 L819.9 1883.0 L821.6 1882.8 L823.3 1882.6 L824.9 1882.5 L826.6 1882.4 L828.3 1882.3 L830.0 1882.2 L831.7 1882.2 L833.3 1882.2 L835.0 1882.2 L836.7 1882.2 L838.4 1882.3 L840.1 1882.3 L841.7 1882.4 L843.4 1882.6 L845.1 1882.7 L846.8 1882.9 L848.5 1883.1 L850.1 1883.3 L851.8 1883.6 L853.5 1883.8 L855.2 1884.1 L856.9 1884.5 L858.5 1884.8 L860.2 1885.2 L861.9 1885.6 L863.6 1886.0 L865.3 1886.5 L866.9 1886.9 L868.6 1887.4 L870.3 1888.0 L872.0 1888.5 L873.7 1889.1 L875.3 1889.7 L877.0 1890.3 L878.7 1890.9 L880.4 1891.5 L882.1 1892.2 L883.7 1892.9 L885.4 1893.6 L887.1 1894.3 L888.8 1895.0 L890.5 1895.8 L892.1 1896.6 L893.8 1897.3 L895.5 1898.1 L897.2 1898.9 L898.9 1899.7 L900.5 1900.6 L902.2 1901.4 L903.9 1902.2 L905.6 1903.1 L907.3 1903.9 L908.9 1904.8 L910.6 1905.7 L912.3 1906.5 L914.0 1907.4 L915.7 1908.3 L917.3 1909.1 L919.0 1910.0 L920.7 1910.9 L922.4 1911.7 L924.1 1912.6 L925.7 1913.4 L927.4 1914.3 L929.1 1915.1 L930.8 1915.9 L932.5 1916.7 L934.1 1917.6 L935.8 1918.4 L937.5 1919.1 L939.2 1919.9 L940.9 1920.7 L942.5 1921.4 L944.2 1922.1 L945.9 1922.9 L947.6 1923.6 L949.3 1924.2 L950.9 1924.9 L952.6 1925.5 L954.3 1926.2 L956.0 1926.8 L957.7 1927.4 L959.3 1927.9 L961.0 1928.5 L962.7 1929.0 L964.4 1929.5 L966.1 1930.0 L967.7 1930.4 L969.4 1930.9 L971.1 1931.3 L972.8 1931.7 L974.5 1932.1 L976.1 1932.4 L977.8 1932.7 L979.5 1933.0 L981.2 1933.3 L982.9 1933.6 L984.5 1933.8 L986.2 1934.0 L987.9 1934.2 L989.6 1934.4 L991.3 1934.6 L992.9 1934.7 L994.6 1934.8 L996.3 1934.9 L998.0 1934.9 L999.7 1935.0 L1001.3 1935.0 L1003.0 1935.0 L1004.7 1935.0 L1006.4 1935.0 L1008.1 1935.0 L1009.7 1934.9 L1011.4 1934.8 L1013.1 1934.7 L1014.8 1934.6 L1016.5 1934.5 L1018.1 1934.4 L1019.8 1934.2 L1021.5 1934.1 L1023.2 1933.9 L1024.9 1933.7 L1026.5 1933.5 L1028.2 1933.3 L1029.9 1933.1 L1031.6 1932.9 L1033.3 1932.6 L1034.9 1932.4 L1036.6 1932.1 L1038.3 1931.9 L1040.0 1931.6 L1041.7 1931.3 L1043.3 1931.1 L1045.0 1930.8 L1046.7 1930.5 L1048.4 1930.2 L1050.1 1929.9 L1051.7 1929.6 L1053.4 1929.3 L1055.1 1929.0 L1056.8 1928.7 L1058.5 1928.4 L1060.1 1928.1 L1061.8 1927.8 L1063.5 1927.5 L1065.2 1927.2 L1066.9 1926.9 L1068.5 1926.6 L1070.2 1926.3 L1071.9 1926.0 L1073.6 1925.7 L1075.3 1925.4 L1076.9 1925.1 L1078.6 1924.8 L1080.3 1924.5 L1082.0 1924.3 L1083.7 1924.0 L1085.3 1923.7 L1087.0 1923.4 L1088.7 1923.2 L1090.4 1922.9 L1092.1 1922.7 L1093.7 1922.4 L1095.4 1922.2 L1097.1 1921.9" fill="none" stroke="#2f2fff" stroke-width="1.9" stroke-linejoin="round" clip-path="url(#c2)"/>
<path d="M677.1 1908.3 L678.8 1908.0 L680.5 1907.7 L682.1 1907.4 L683.8 1907.1 L685.5 1906.7 L687.2 1906.4 L688.9 1906.1 L690.5 1905.7 L692.2 1905.3 L693.9 1904.9 L695.6 1904.6 L697.3 1904.2 L698.9 1903.8 L700.6 1903.3 L702.3 1902.9 L704.0 1902.5 L705.7 1902.0 L707.3 1901.6 L709.0 1901.1 L710.7 1900.6 L712.4 1900.1 L714.1 1899.6 L715.7 1899.1 L717.4 1898.6 L719.1 1898.1 L720.8 1897.6 L722.5 1897.0 L724.1 1896.5 L725.8 1895.9 L727.5 1895.4 L729.2 1894.8 L730.9 1894.2 L732.5 1893.6 L734.2 1893.0 L735.9 1892.4 L737.6 1891.8 L739.3 1891.2 L740.9 1890.6 L742.6 1890.0 L744.3 1889.4 L746.0 1888.8 L747.7 1888.2 L749.3 1887.5 L751.0 1886.9 L752.7 1886.3 L754.4 1885.7 L756.1 1885.1 L757.7 1884.4 L759.4 1883.8 L761.1 1883.2 L762.8 1882.6 L764.5 1882.0 L766.1 1881.4 L767.8 1880.8 L769.5 1880.2 L771.2 1879.6 L772.9 1879.1 L774.5 1878.5 L776.2 1878.0 L777.9 1877.4 L779.6 1876.9 L781.3 1876.4 L782.9 1875.9 L784.6 1875.4 L786.3 1874.9 L788.0 1874.5 L789.7 1874.0 L791.3 1873.6 L793.0 1873.2 L794.7 1872.8 L796.4 1872.5 L798.1 1872.1 L799.7 1871.8 L801.4 1871.5 L803.1 1871.2 L804.8 1871.0 L806.5 1870.7 L808.1 1870.5 L809.8 1870.3 L811.5 1870.2 L813.2 1870.1 L814.9 1870.0 L816.5 1869.9 L818.2 1869.8 L819.9 1869.8 L821.6 1869.8 L823.3 1869.9 L824.9 1869.9 L826.6 1870.0 L828.3 1870.2 L830.0 1870.3 L831.7 1870.5 L833.3 1870.7 L835.0 1871.0 L836.7 1871.3 L838.4 1871.6 L840.1 1871.9 L841.7 1872.3 L843.4 1872.7 L845.1 1873.1 L846.8 1873.5 L848.5 1874.0 L850.1 1874.5 L851.8 1875.1 L853.5 1875.6 L855.2 1876.2 L856.9 1876.8 L858.5 1877.5 L860.2 1878.1 L861.9 1878.8 L863.6 1879.5 L865.3 1880.3 L866.9 1881.0 L868.6 1881.8 L870.3 1882.6 L872.0 1883.4 L873.7 1884.3 L875.3 1885.1 L877.0 1886.0 L878.7 1886.9 L880.4 1887.8 L882.1 1888.7 L883.7 1889.6 L885.4 1890.5 L887.1 1891.5 L888.8 1892.4 L890.5 1893.4 L892.1 1894.4 L893.8 1895.3 L895.5 1896.3 L897.2 1897.3 L898.9 1898.3 L900.5 1899.3 L902.2 1900.2 L903.9 1901.2 L905.6 1902.2 L907.3 1903.2 L908.9 1904.2 L910.6 1905.1 L912.3 1906.1 L914.0 1907.0 L915.7 1908.0 L917.3 1908.9 L919.0 1909.8 L920.7 1910.7 L922.4 1911.6 L924.1 1912.5 L925.7 1913.4 L927.4 1914.3 L929.1 1915.1 L930.8 1915.9 L932.5 1916.7 L934.1 1917.5 L935.8 1918.3 L937.5 1919.0 L939.2 1919.8 L940.9 1920.5 L942.5 1921.2 L944.2 1921.8 L945.9 1922.5 L947.6 1923.1 L949.3 1923.7 L950.9 1924.3 L952.6 1924.8 L954.3 1925.4 L956.0 1925.9 L957.7 1926.4 L959.3 1926.8 L961.0 1927.3 L962.7 1927.7 L964.4 1928.1 L966.1 1928.5 L967.7 1928.8 L969.4 1929.1 L971.1 1929.4 L972.8 1929.7 L974.5 1930.0 L976.1 1930.2 L977.8 1930.4 L979.5 1930.6 L981.2 1930.8 L982.9 1930.9 L984.5 1931.0 L986.2 1931.2 L987.9 1931.2 L989.6 1931.3 L991.3 1931.4 L992.9 1931.4 L994.6 1931.4 L996.3 1931.4 L998.0 1931.4 L999.7 1931.3 L1001.3 1931.3 L1003.0 1931.2 L1004.7 1931.2 L1006.4 1931.1 L1008.1 1931.0 L1009.7 1930.8 L1011.4 1930.7 L1013.1 1930.6 L1014.8 1930.4 L1016.5 1930.2 L1018.1 1930.1 L1019.8 1929.9 L1021.5 1929.7 L1023.2 1929.5 L1024.9 1929.3 L1026.5 1929.1 L1028.2 1928.9 L1029.9 1928.6 L1031.6 1928.4 L1033.3 1928.2 L1034.9 1927.9 L1036.6 1927.7 L1038.3 1927.4 L1040.0 1927.2 L1041.7 1926.9 L1043.3 1926.7 L1045.0 1926.4 L1046.7 1926.2 L1048.4 1925.9 L1050.1 1925.7 L1051.7 1925.4 L1053.4 1925.1 L1055.1 1924.9 L1056.8 1924.6 L1058.5 1924.4 L1060.1 1924.1 L1061.8 1923.9 L1063.5 1923.6 L1065.2 1923.4 L1066.9 1923.1 L1068.5 1922.9 L1070.2 1922.7 L1071.9 1922.4 L1073.6 1922.2 L1075.3 1922.0 L1076.9 1921.8 L1078.6 1921.5 L1080.3 1921.3 L1082.0 1921.1 L1083.7 1920.9 L1085.3 1920.7 L1087.0 1920.5 L1088.7 1920.3 L1090.4 1920.1 L1092.1 1919.9 L1093.7 1919.8 L1095.4 1919.6 L1097.1 1919.4" fill="none" stroke="#e31a1c" stroke-width="1.9" stroke-dasharray="6.5 2.8" stroke-linejoin="round" clip-path="url(#c2)"/>
<path d="M677.1 1896.4 L678.8 1895.8 L680.5 1895.1 L682.1 1894.5 L683.8 1893.8 L685.5 1893.1 L687.2 1892.4 L688.9 1891.7 L690.5 1890.9 L692.2 1890.2 L693.9 1889.4 L695.6 1888.7 L697.3 1887.9 L698.9 1887.1 L700.6 1886.3 L702.3 1885.5 L704.0 1884.7 L705.7 1883.8 L707.3 1883.0 L709.0 1882.2 L710.7 1881.3 L712.4 1880.4 L714.1 1879.6 L715.7 1878.7 L717.4 1877.8 L719.1 1876.9 L720.8 1876.0 L722.5 1875.1 L724.1 1874.3 L725.8 1873.4 L727.5 1872.5 L729.2 1871.6 L730.9 1870.7 L732.5 1869.8 L734.2 1868.9 L735.9 1868.0 L737.6 1867.1 L739.3 1866.2 L740.9 1865.4 L742.6 1864.5 L744.3 1863.7 L746.0 1862.8 L747.7 1862.0 L749.3 1861.2 L751.0 1860.4 L752.7 1859.6 L754.4 1858.8 L756.1 1858.0 L757.7 1857.3 L759.4 1856.5 L761.1 1855.8 L762.8 1855.1 L764.5 1854.4 L766.1 1853.8 L767.8 1853.2 L769.5 1852.6 L771.2 1852.0 L772.9 1851.4 L774.5 1850.9 L776.2 1850.4 L777.9 1849.9 L779.6 1849.5 L781.3 1849.1 L782.9 1848.7 L784.6 1848.3 L786.3 1848.0 L788.0 1847.7 L789.7 1847.5 L791.3 1847.2 L793.0 1847.1 L794.7 1846.9 L796.4 1846.8 L798.1 1846.7 L799.7 1846.7 L801.4 1846.7 L803.1 1846.7 L804.8 1846.8 L806.5 1846.9 L808.1 1847.0 L809.8 1847.2 L811.5 1847.4 L813.2 1847.7 L814.9 1848.0 L816.5 1848.3 L818.2 1848.7 L819.9 1849.1 L821.6 1849.6 L823.3 1850.0 L824.9 1850.6 L826.6 1851.1 L828.3 1851.7 L830.0 1852.3 L831.7 1853.0 L833.3 1853.7 L835.0 1854.4 L836.7 1855.2 L838.4 1856.0 L840.1 1856.8 L841.7 1857.7 L843.4 1858.5 L845.1 1859.4 L846.8 1860.4 L848.5 1861.4 L850.1 1862.3 L851.8 1863.4 L853.5 1864.4 L855.2 1865.5 L856.9 1866.5 L858.5 1867.6 L860.2 1868.8 L861.9 1869.9 L863.6 1871.0 L865.3 1872.2 L866.9 1873.4 L868.6 1874.6 L870.3 1875.8 L872.0 1877.0 L873.7 1878.2 L875.3 1879.5 L877.0 1880.7 L878.7 1881.9 L880.4 1883.2 L882.1 1884.4 L883.7 1885.6 L885.4 1886.9 L887.1 1888.1 L888.8 1889.4 L890.5 1890.6 L892.1 1891.8 L893.8 1893.0 L895.5 1894.2 L897.2 1895.4 L898.9 1896.6 L900.5 1897.8 L902.2 1899.0 L903.9 1900.1 L905.6 1901.2 L907.3 1902.4 L908.9 1903.5 L910.6 1904.5 L912.3 1905.6 L914.0 1906.7 L915.7 1907.7 L917.3 1908.7 L919.0 1909.7 L920.7 1910.6 L922.4 1911.6 L924.1 1912.5 L925.7 1913.4 L927.4 1914.3 L929.1 1915.1 L930.8 1915.9 L932.5 1916.7 L934.1 1917.5 L935.8 1918.2 L937.5 1918.9 L939.2 1919.6 L940.9 1920.3 L942.5 1920.9 L944.2 1921.5 L945.9 1922.1 L947.6 1922.7 L949.3 1923.2 L950.9 1923.7 L952.6 1924.2 L954.3 1924.7 L956.0 1925.1 L957.7 1925.5 L959.3 1925.9 L961.0 1926.2 L962.7 1926.6 L964.4 1926.9 L966.1 1927.1 L967.7 1927.4 L969.4 1927.6 L971.1 1927.8 L972.8 1928.0 L974.5 1928.2 L976.1 1928.4 L977.8 1928.5 L979.5 1928.6 L981.2 1928.7 L982.9 1928.7 L984.5 1928.8 L986.2 1928.8 L987.9 1928.9 L989.6 1928.9 L991.3 1928.8 L992.9 1928.8 L994.6 1928.8 L996.3 1928.7 L998.0 1928.6 L999.7 1928.6 L1001.3 1928.5 L1003.0 1928.4 L1004.7 1928.2 L1006.4 1928.1 L1008.1 1928.0 L1009.7 1927.8 L1011.4 1927.7 L1013.1 1927.5 L1014.8 1927.3 L1016.5 1927.2 L1018.1 1927.0 L1019.8 1926.8 L1021.5 1926.6 L1023.2 1926.4 L1024.9 1926.2 L1026.5 1926.0 L1028.2 1925.8 L1029.9 1925.6 L1031.6 1925.4 L1033.3 1925.1 L1034.9 1924.9 L1036.6 1924.7 L1038.3 1924.5 L1040.0 1924.3 L1041.7 1924.0 L1043.3 1923.8 L1045.0 1923.6 L1046.7 1923.4 L1048.4 1923.2 L1050.1 1923.0 L1051.7 1922.7 L1053.4 1922.5 L1055.1 1922.3 L1056.8 1922.1 L1058.5 1921.9 L1060.1 1921.7 L1061.8 1921.5 L1063.5 1921.3 L1065.2 1921.1 L1066.9 1920.9 L1068.5 1920.7 L1070.2 1920.5 L1071.9 1920.3 L1073.6 1920.2 L1075.3 1920.0 L1076.9 1919.8 L1078.6 1919.6 L1080.3 1919.5 L1082.0 1919.3 L1083.7 1919.2 L1085.3 1919.0 L1087.0 1918.9 L1088.7 1918.7 L1090.4 1918.6 L1092.1 1918.4 L1093.7 1918.3 L1095.4 1918.2 L1097.1 1918.1" fill="none" stroke="#4f9a2f" stroke-width="1.9" stroke-dasharray="1.9 3.1" stroke-linejoin="round" clip-path="url(#c2)"/>
<path d="M677.1 1857.1 L678.8 1855.6 L680.5 1854.2 L682.1 1852.7 L683.8 1851.3 L685.5 1849.8 L687.2 1848.3 L688.9 1846.8 L690.5 1845.3 L692.2 1843.8 L693.9 1842.3 L695.6 1840.8 L697.3 1839.3 L698.9 1837.9 L700.6 1836.4 L702.3 1834.9 L704.0 1833.4 L705.7 1831.9 L707.3 1830.5 L709.0 1829.0 L710.7 1827.6 L712.4 1826.2 L714.1 1824.7 L715.7 1823.3 L717.4 1822.0 L719.1 1820.6 L720.8 1819.3 L722.5 1818.0 L724.1 1816.7 L725.8 1815.4 L727.5 1814.2 L729.2 1812.9 L730.9 1811.8 L732.5 1810.6 L734.2 1809.5 L735.9 1808.4 L737.6 1807.3 L739.3 1806.3 L740.9 1805.4 L742.6 1804.4 L744.3 1803.5 L746.0 1802.7 L747.7 1801.9 L749.3 1801.1 L751.0 1800.4 L752.7 1799.7 L754.4 1799.1 L756.1 1798.5 L757.7 1797.9 L759.4 1797.5 L761.1 1797.0 L762.8 1796.7 L764.5 1796.3 L766.1 1796.1 L767.8 1795.8 L769.5 1795.7 L771.2 1795.6 L772.9 1795.5 L774.5 1795.5 L776.2 1795.6 L777.9 1795.7 L779.6 1795.8 L781.3 1796.1 L782.9 1796.3 L784.6 1796.7 L786.3 1797.1 L788.0 1797.5 L789.7 1798.0 L791.3 1798.6 L793.0 1799.2 L794.7 1799.8 L796.4 1800.6 L798.1 1801.3 L799.7 1802.1 L801.4 1803.0 L803.1 1803.9 L804.8 1804.9 L806.5 1805.9 L808.1 1807.0 L809.8 1808.1 L811.5 1809.3 L813.2 1810.5 L814.9 1811.7 L816.5 1813.0 L818.2 1814.4 L819.9 1815.7 L821.6 1817.1 L823.3 1818.6 L824.9 1820.1 L826.6 1821.6 L828.3 1823.1 L830.0 1824.7 L831.7 1826.3 L833.3 1827.9 L835.0 1829.6 L836.7 1831.2 L838.4 1832.9 L840.1 1834.7 L841.7 1836.4 L843.4 1838.2 L845.1 1839.9 L846.8 1841.7 L848.5 1843.5 L850.1 1845.3 L851.8 1847.1 L853.5 1848.9 L855.2 1850.8 L856.9 1852.6 L858.5 1854.4 L860.2 1856.2 L861.9 1858.1 L863.6 1859.9 L865.3 1861.7 L866.9 1863.5 L868.6 1865.3 L870.3 1867.1 L872.0 1868.9 L873.7 1870.6 L875.3 1872.4 L877.0 1874.1 L878.7 1875.8 L880.4 1877.5 L882.1 1879.2 L883.7 1880.9 L885.4 1882.5 L887.1 1884.1 L888.8 1885.7 L890.5 1887.3 L892.1 1888.8 L893.8 1890.4 L895.5 1891.8 L897.2 1893.3 L898.9 1894.7 L900.5 1896.1 L902.2 1897.5 L903.9 1898.9 L905.6 1900.2 L907.3 1901.5 L908.9 1902.7 L910.6 1903.9 L912.3 1905.1 L914.0 1906.3 L915.7 1907.4 L917.3 1908.5 L919.0 1909.5 L920.7 1910.5 L922.4 1911.5 L924.1 1912.5 L925.7 1913.4 L927.4 1914.3 L929.1 1915.1 L930.8 1915.9 L932.5 1916.7 L934.1 1917.4 L935.8 1918.2 L937.5 1918.8 L939.2 1919.5 L940.9 1920.1 L942.5 1920.7 L944.2 1921.3 L945.9 1921.8 L947.6 1922.3 L949.3 1922.8 L950.9 1923.2 L952.6 1923.6 L954.3 1924.0 L956.0 1924.4 L957.7 1924.7 L959.3 1925.0 L961.0 1925.3 L962.7 1925.5 L964.4 1925.8 L966.1 1926.0 L967.7 1926.2 L969.4 1926.3 L971.1 1926.5 L972.8 1926.6 L974.5 1926.7 L976.1 1926.8 L977.8 1926.9 L979.5 1926.9 L981.2 1927.0 L982.9 1927.0 L984.5 1927.0 L986.2 1927.0 L987.9 1926.9 L989.6 1926.9 L991.3 1926.8 L992.9 1926.8 L994.6 1926.7 L996.3 1926.6 L998.0 1926.5 L999.7 1926.4 L1001.3 1926.3 L1003.0 1926.2 L1004.7 1926.0 L1006.4 1925.9 L1008.1 1925.8 L1009.7 1925.6 L1011.4 1925.4 L1013.1 1925.3 L1014.8 1925.1 L1016.5 1924.9 L1018.1 1924.8 L1019.8 1924.6 L1021.5 1924.4 L1023.2 1924.2 L1024.9 1924.0 L1026.5 1923.8 L1028.2 1923.6 L1029.9 1923.4 L1031.6 1923.3 L1033.3 1923.1 L1034.9 1922.9 L1036.6 1922.7 L1038.3 1922.5 L1040.0 1922.3 L1041.7 1922.1 L1043.3 1921.9 L1045.0 1921.7 L1046.7 1921.5 L1048.4 1921.4 L1050.1 1921.2 L1051.7 1921.0 L1053.4 1920.8 L1055.1 1920.6 L1056.8 1920.5 L1058.5 1920.3 L1060.1 1920.1 L1061.8 1920.0 L1063.5 1919.8 L1065.2 1919.6 L1066.9 1919.5 L1068.5 1919.3 L1070.2 1919.2 L1071.9 1919.0 L1073.6 1918.9 L1075.3 1918.8 L1076.9 1918.6 L1078.6 1918.5 L1080.3 1918.4 L1082.0 1918.2 L1083.7 1918.1 L1085.3 1918.0 L1087.0 1917.9 L1088.7 1917.8 L1090.4 1917.7 L1092.1 1917.6 L1093.7 1917.5 L1095.4 1917.4 L1097.1 1917.3" fill="none" stroke="#7f7f7f" stroke-width="1.9" stroke-dasharray="11.5 3 2 3" stroke-linejoin="round" clip-path="url(#c2)"/>
<path d="M677.1 1718.3 L678.8 1715.4 L680.5 1712.5 L682.1 1709.7 L683.8 1706.9 L685.5 1704.2 L687.2 1701.5 L688.9 1698.8 L690.5 1696.2 L692.2 1693.7 L693.9 1691.3 L695.6 1688.9 L697.3 1686.5 L698.9 1684.3 L700.6 1682.1 L702.3 1680.0 L704.0 1677.9 L705.7 1676.0 L707.3 1674.1 L709.0 1672.3 L710.7 1670.6 L712.4 1669.0 L714.1 1667.5 L715.7 1666.1 L717.4 1664.7 L719.1 1663.5 L720.8 1662.4 L722.5 1661.3 L724.1 1660.4 L725.8 1659.5 L727.5 1658.8 L729.2 1658.2 L730.9 1657.6 L732.5 1657.2 L734.2 1656.9 L735.9 1656.7 L737.6 1656.6 L739.3 1656.6 L740.9 1656.7 L742.6 1656.9 L744.3 1657.3 L746.0 1657.7 L747.7 1658.3 L749.3 1658.9 L751.0 1659.7 L752.7 1660.5 L754.4 1661.5 L756.1 1662.6 L757.7 1663.8 L759.4 1665.0 L761.1 1666.4 L762.8 1667.9 L764.5 1669.5 L766.1 1671.2 L767.8 1672.9 L769.5 1674.8 L771.2 1676.7 L772.9 1678.8 L774.5 1680.9 L776.2 1683.1 L777.9 1685.4 L779.6 1687.7 L781.3 1690.2 L782.9 1692.7 L784.6 1695.3 L786.3 1697.9 L788.0 1700.7 L789.7 1703.4 L791.3 1706.3 L793.0 1709.2 L794.7 1712.1 L796.4 1715.1 L798.1 1718.2 L799.7 1721.3 L801.4 1724.5 L803.1 1727.6 L804.8 1730.9 L806.5 1734.1 L808.1 1737.4 L809.8 1740.7 L811.5 1744.1 L813.2 1747.4 L814.9 1750.8 L816.5 1754.2 L818.2 1757.6 L819.9 1761.0 L821.6 1764.4 L823.3 1767.9 L824.9 1771.3 L826.6 1774.7 L828.3 1778.2 L830.0 1781.6 L831.7 1785.0 L833.3 1788.4 L835.0 1791.8 L836.7 1795.1 L838.4 1798.5 L840.1 1801.8 L841.7 1805.1 L843.4 1808.4 L845.1 1811.6 L846.8 1814.9 L848.5 1818.0 L850.1 1821.2 L851.8 1824.3 L853.5 1827.4 L855.2 1830.4 L856.9 1833.4 L858.5 1836.4 L860.2 1839.3 L861.9 1842.2 L863.6 1845.0 L865.3 1847.8 L866.9 1850.5 L868.6 1853.2 L870.3 1855.9 L872.0 1858.5 L873.7 1861.0 L875.3 1863.5 L877.0 1865.9 L878.7 1868.3 L880.4 1870.6 L882.1 1872.9 L883.7 1875.1 L885.4 1877.3 L887.1 1879.4 L888.8 1881.4 L890.5 1883.4 L892.1 1885.4 L893.8 1887.3 L895.5 1889.1 L897.2 1890.9 L898.9 1892.6 L900.5 1894.3 L902.2 1895.9 L903.9 1897.5 L905.6 1899.0 L907.3 1900.5 L908.9 1901.9 L910.6 1903.2 L912.3 1904.6 L914.0 1905.8 L915.7 1907.0 L917.3 1908.2 L919.0 1909.3 L920.7 1910.4 L922.4 1911.4 L924.1 1912.4 L925.7 1913.4 L927.4 1914.2 L929.1 1915.1 L930.8 1915.9 L932.5 1916.7 L934.1 1917.4 L935.8 1918.1 L937.5 1918.8 L939.2 1919.4 L940.9 1920.0 L942.5 1920.5 L944.2 1921.0 L945.9 1921.5 L947.6 1921.9 L949.3 1922.4 L950.9 1922.7 L952.6 1923.1 L954.3 1923.4 L956.0 1923.7 L957.7 1924.0 L959.3 1924.2 L961.0 1924.5 L962.7 1924.7 L964.4 1924.8 L966.1 1925.0 L967.7 1925.1 L969.4 1925.2 L971.1 1925.3 L972.8 1925.4 L974.5 1925.5 L976.1 1925.5 L977.8 1925.5 L979.5 1925.5 L981.2 1925.5 L982.9 1925.5 L984.5 1925.5 L986.2 1925.4 L987.9 1925.4 L989.6 1925.3 L991.3 1925.3 L992.9 1925.2 L994.6 1925.1 L996.3 1925.0 L998.0 1924.9 L999.7 1924.7 L1001.3 1924.6 L1003.0 1924.5 L1004.7 1924.3 L1006.4 1924.2 L1008.1 1924.1 L1009.7 1923.9 L1011.4 1923.8 L1013.1 1923.6 L1014.8 1923.4 L1016.5 1923.3 L1018.1 1923.1 L1019.8 1922.9 L1021.5 1922.8 L1023.2 1922.6 L1024.9 1922.4 L1026.5 1922.3 L1028.2 1922.1 L1029.9 1921.9 L1031.6 1921.7 L1033.3 1921.6 L1034.9 1921.4 L1036.6 1921.2 L1038.3 1921.1 L1040.0 1920.9 L1041.7 1920.7 L1043.3 1920.6 L1045.0 1920.4 L1046.7 1920.3 L1048.4 1920.1 L1050.1 1920.0 L1051.7 1919.8 L1053.4 1919.7 L1055.1 1919.5 L1056.8 1919.4 L1058.5 1919.2 L1060.1 1919.1 L1061.8 1918.9 L1063.5 1918.8 L1065.2 1918.7 L1066.9 1918.6 L1068.5 1918.4 L1070.2 1918.3 L1071.9 1918.2 L1073.6 1918.1 L1075.3 1918.0 L1076.9 1917.9 L1078.6 1917.8 L1080.3 1917.7 L1082.0 1917.6 L1083.7 1917.5 L1085.3 1917.4 L1087.0 1917.3 L1088.7 1917.2 L1090.4 1917.1 L1092.1 1917.0 L1093.7 1916.9 L1095.4 1916.9 L1097.1 1916.8" fill="none" stroke="#f0a22e" stroke-width="1.9" stroke-linejoin="round" clip-path="url(#c2)"/>
<text x="677.1" y="1972.6" font-family="Liberation Serif" font-size="21" text-anchor="middle" fill="#3a3a3a" >0</text>
<text x="761.1" y="1972.6" font-family="Liberation Serif" font-size="21" text-anchor="middle" fill="#3a3a3a" >1</text>
<text x="845.1" y="1972.6" font-family="Liberation Serif" font-size="21" text-anchor="middle" fill="#3a3a3a" >2</text>
<text x="929.1" y="1972.6" font-family="Liberation Serif" font-size="21" text-anchor="middle" fill="#3a3a3a" >3</text>
<text x="1013.1" y="1972.6" font-family="Liberation Serif" font-size="21" text-anchor="middle" fill="#3a3a3a" >4</text>
<text x="1097.1" y="1972.6" font-family="Liberation Serif" font-size="21" text-anchor="middle" fill="#3a3a3a" >5</text>
<text x="666.5" y="1921.6" font-family="Liberation Serif" font-size="21" text-anchor="end" fill="#3a3a3a" >0.0</text>
<text x="666.5" y="1814.0" font-family="Liberation Serif" font-size="21" text-anchor="end" fill="#3a3a3a" >0.5</text>
<text x="666.5" y="1706.5" font-family="Liberation Serif" font-size="21" text-anchor="end" fill="#3a3a3a" >1.0</text>
<text x="886.0" y="2000.8" font-family="Liberation Serif" font-size="27" text-anchor="middle" fill="#3a3a3a" textLength="357" lengthAdjust="spacing"><tspan font-style="italic">π</tspan><tspan font-size="19" dy="6">1</tspan><tspan dy="-6"> = </tspan><tspan font-style="italic">N</tspan>(2.75, 1), <tspan font-style="italic">π</tspan><tspan font-size="19" dy="6">2</tspan><tspan dy="-6"> = </tspan><tspan font-style="italic">N</tspan>(3.25, 1)</text>
<text transform="translate(624.5,1909) rotate(-90)" font-family="Liberation Serif" font-size="27" text-anchor="start" fill="#3a3a3a" textLength="205" lengthAdjust="spacing">Tsallis KL −<tspan font-style="italic">π</tspan><tspan font-size="19" dy="6">1</tspan><tspan dy="-6"> ln</tspan><tspan font-size="19" dy="6" font-style="italic">q</tspan><tspan dy="-6"> </tspan></text>
<g transform="translate(617,1692.5) rotate(-90)" font-family="Liberation Serif" font-size="19" fill="#3a3a3a" font-style="italic"><text x="0" y="-8" text-anchor="middle">π<tspan font-size="14" dy="3" font-style="normal">2</tspan></text><line x1="-10" y1="-4" x2="10" y2="-4" stroke="#3a3a3a" stroke-width="1"/><text x="0" y="11" text-anchor="middle">π<tspan font-size="14" dy="3" font-style="normal">1</tspan></text></g>
<line x1="964.1" y1="1671.2" x2="1009.5" y2="1671.2" stroke="#2f2fff" stroke-width="1.9"/>
<text x="1026.3" y="1678.7" font-family="Liberation Serif" font-size="24.5" text-anchor="start" fill="#3a3a3a" textLength="48" lengthAdjust="spacing"><tspan font-style="italic">q</tspan> = 1</text>
<line x1="964.1" y1="1702.9" x2="1009.5" y2="1702.9" stroke="#e31a1c" stroke-width="1.9" stroke-dasharray="6.5 2.8"/>
<text x="1026.3" y="1710.4" font-family="Liberation Serif" font-size="24.5" text-anchor="start" fill="#3a3a3a" textLength="48" lengthAdjust="spacing"><tspan font-style="italic">q</tspan> = 2</text>
<line x1="964.1" y1="1733.9" x2="1009.5" y2="1733.9" stroke="#4f9a2f" stroke-width="1.9" stroke-dasharray="1.9 3.1"/>
<text x="1026.3" y="1741.4" font-family="Liberation Serif" font-size="24.5" text-anchor="start" fill="#3a3a3a" textLength="48" lengthAdjust="spacing"><tspan font-style="italic">q</tspan> = 3</text>
<line x1="964.1" y1="1765.6" x2="1009.5" y2="1765.6" stroke="#7f7f7f" stroke-width="1.9" stroke-dasharray="11.5 3 2 3"/>
<text x="1026.3" y="1773.1" font-family="Liberation Serif" font-size="24.5" text-anchor="start" fill="#3a3a3a" textLength="48" lengthAdjust="spacing"><tspan font-style="italic">q</tspan> = 4</text>
<line x1="964.1" y1="1796.8" x2="1009.5" y2="1796.8" stroke="#f0a22e" stroke-width="1.9"/>
<text x="1026.3" y="1804.3" font-family="Liberation Serif" font-size="24.5" text-anchor="start" fill="#3a3a3a" textLength="48" lengthAdjust="spacing"><tspan font-style="italic">q</tspan> = 5</text>
<line x1="1202.2" y1="1643.2" x2="1202.2" y2="2007.8" stroke="#d2d2d2" stroke-width="1.3"/>
<line x1="1256.3" y1="1643.2" x2="1256.3" y2="2007.8" stroke="#d2d2d2" stroke-width="1.3"/>
<line x1="1310.5" y1="1643.2" x2="1310.5" y2="2007.8" stroke="#d2d2d2" stroke-width="1.3"/>
<line x1="1364.4" y1="1643.2" x2="1364.4" y2="2007.8" stroke="#d2d2d2" stroke-width="1.3"/>
<line x1="1418.3" y1="1643.2" x2="1418.3" y2="2007.8" stroke="#d2d2d2" stroke-width="1.3"/>
<line x1="1472.4" y1="1643.2" x2="1472.4" y2="2007.8" stroke="#d2d2d2" stroke-width="1.3"/>
<line x1="1526.3" y1="1643.2" x2="1526.3" y2="2007.8" stroke="#d2d2d2" stroke-width="1.3"/>
<line x1="1580.5" y1="1643.2" x2="1580.5" y2="2007.8" stroke="#d2d2d2" stroke-width="1.3"/>
<line x1="1174.9" y1="1666.8" x2="1634.4" y2="1666.8" stroke="#d2d2d2" stroke-width="1.3"/>
<line x1="1174.9" y1="1715.1" x2="1634.4" y2="1715.1" stroke="#d2d2d2" stroke-width="1.3"/>
<line x1="1174.9" y1="1762.9" x2="1634.4" y2="1762.9" stroke="#d2d2d2" stroke-width="1.3"/>
<line x1="1174.9" y1="1811.0" x2="1634.4" y2="1811.0" stroke="#d2d2d2" stroke-width="1.3"/>
<line x1="1174.9" y1="1859.3" x2="1634.4" y2="1859.3" stroke="#d2d2d2" stroke-width="1.3"/>
<line x1="1174.9" y1="1907.3" x2="1634.4" y2="1907.3" stroke="#d2d2d2" stroke-width="1.3"/>
<line x1="1174.9" y1="1955.4" x2="1634.4" y2="1955.4" stroke="#d2d2d2" stroke-width="1.3"/>
<line x1="1174.9" y1="2003.4" x2="1634.4" y2="2003.4" stroke="#d2d2d2" stroke-width="1.3"/>
<rect x="1174.9" y="1643.2" width="459.5" height="364.5999999999999" fill="none" stroke="#d2d2d2" stroke-width="1.5"/>
<defs><linearGradient id="rg" x1="0" y1="1738.0" x2="0" y2="2004.1" gradientUnits="userSpaceOnUse"><stop offset="0" stop-color="#d92a2a" stop-opacity="0.9"/><stop offset="0.55" stop-color="#dd4444" stop-opacity="0.45"/><stop offset="1" stop-color="#e06060" stop-opacity="0"/></linearGradient><clipPath id="c3"><rect x="1281.5" y="1643.2" width="286.1" height="364.5999999999999"/></clipPath></defs>
<path d="M1174.9 2002.2 C1179.4 2001.6 1192.7 2001.5 1202.2 1998.8 C1211.7 1996.1 1222.9 1991.3 1232.0 1985.9 C1241.0 1980.4 1248.1 1975.7 1256.3 1966.3 C1264.6 1957.0 1272.4 1943.2 1281.5 1929.8 C1290.5 1916.3 1302.5 1896.6 1310.5 1885.9 C1318.5 1875.1 1323.9 1869.7 1329.5 1865.1 C1335.1 1860.6 1338.3 1858.3 1344.1 1858.5 C1350.0 1858.7 1357.9 1862.4 1364.4 1866.3 C1370.9 1870.3 1377.6 1878.0 1383.2 1882.2 C1388.7 1886.4 1393.3 1891.3 1397.8 1891.5 C1402.3 1891.7 1405.9 1889.6 1410.0 1883.4 C1414.1 1877.2 1418.1 1867.2 1422.2 1854.1 C1426.3 1841.1 1430.3 1820.8 1434.4 1805.4 C1438.5 1789.9 1442.9 1772.0 1446.6 1761.5 C1450.2 1750.9 1453.6 1745.9 1456.3 1742.0 C1459.1 1738.0 1460.7 1737.8 1463.2 1738.0 C1465.6 1738.3 1468.0 1738.9 1471.0 1743.2 C1473.9 1747.5 1477.5 1756.0 1480.7 1763.9 C1484.0 1771.8 1487.2 1781.8 1490.5 1790.7 C1493.7 1799.7 1496.6 1809.0 1500.2 1817.6 C1503.9 1826.1 1508.1 1834.8 1512.4 1842.0 C1516.8 1849.1 1520.7 1851.7 1526.3 1860.2 C1532.0 1868.8 1539.7 1881.6 1546.6 1893.2 C1553.5 1904.8 1561.9 1920.2 1567.6 1929.8 C1573.2 1939.3 1575.4 1943.2 1580.5 1950.5 C1585.5 1957.8 1591.7 1967.0 1597.8 1973.7 C1603.9 1980.4 1611.2 1986.1 1617.3 1990.7 C1623.4 1995.4 1631.5 1999.9 1634.4 2001.7 L1634.4 2004.1 L1174.9 2004.1 Z" fill="url(#rg)" clip-path="url(#c3)"/>
<path d="M1174.9 2002.2 C1179.4 2001.6 1192.7 2001.5 1202.2 1998.8 C1211.7 1996.1 1222.9 1991.3 1232.0 1985.9 C1241.0 1980.4 1248.1 1975.7 1256.3 1966.3 C1264.6 1957.0 1272.4 1943.2 1281.5 1929.8 C1290.5 1916.3 1302.5 1896.6 1310.5 1885.9 C1318.5 1875.1 1323.9 1869.7 1329.5 1865.1 C1335.1 1860.6 1338.3 1858.3 1344.1 1858.5 C1350.0 1858.7 1357.9 1862.4 1364.4 1866.3 C1370.9 1870.3 1377.6 1878.0 1383.2 1882.2 C1388.7 1886.4 1393.3 1891.3 1397.8 1891.5 C1402.3 1891.7 1405.9 1889.6 1410.0 1883.4 C1414.1 1877.2 1418.1 1867.2 1422.2 1854.1 C1426.3 1841.1 1430.3 1820.8 1434.4 1805.4 C1438.5 1789.9 1442.9 1772.0 1446.6 1761.5 C1450.2 1750.9 1453.6 1745.9 1456.3 1742.0 C1459.1 1738.0 1460.7 1737.8 1463.2 1738.0 C1465.6 1738.3 1468.0 1738.9 1471.0 1743.2 C1473.9 1747.5 1477.5 1756.0 1480.7 1763.9 C1484.0 1771.8 1487.2 1781.8 1490.5 1790.7 C1493.7 1799.7 1496.6 1809.0 1500.2 1817.6 C1503.9 1826.1 1508.1 1834.8 1512.4 1842.0 C1516.8 1849.1 1520.7 1851.7 1526.3 1860.2 C1532.0 1868.8 1539.7 1881.6 1546.6 1893.2 C1553.5 1904.8 1561.9 1920.2 1567.6 1929.8 C1573.2 1939.3 1575.4 1943.2 1580.5 1950.5 C1585.5 1957.8 1591.7 1967.0 1597.8 1973.7 C1603.9 1980.4 1611.2 1986.1 1617.3 1990.7 C1623.4 1995.4 1631.5 1999.9 1634.4 2001.7" fill="none" stroke="#d81818" stroke-width="1.9"/>
<line x1="1281.5" y1="1643.2" x2="1281.5" y2="2007.8" stroke="#d81818" stroke-width="1.9" stroke-dasharray="6.5 2.8"/>
<line x1="1567.6" y1="1643.2" x2="1567.6" y2="2007.8" stroke="#d81818" stroke-width="1.9" stroke-dasharray="6.5 2.8"/>
<text transform="translate(1157.5,1826.5) rotate(-90)" font-family="Liberation Serif" font-size="27" text-anchor="middle" fill="#3a3a3a" textLength="255" lengthAdjust="spacing">Boltzmann policy <tspan font-style="italic">q</tspan> = 2</text>
<rect x="1874.5" y="1628" width="608.8" height="336.0" fill="#e9e9f2"/>
<line x1="1874.5" y1="1954.4" x2="2483.3" y2="1954.4" stroke="#f6f6fa" stroke-width="1.6"/>
<line x1="1874.5" y1="1911.0" x2="2483.3" y2="1911.0" stroke="#f6f6fa" stroke-width="1.6"/>
<line x1="1874.5" y1="1867.6" x2="2483.3" y2="1867.6" stroke="#f6f6fa" stroke-width="1.6"/>
<line x1="1874.5" y1="1824.1" x2="2483.3" y2="1824.1" stroke="#f6f6fa" stroke-width="1.6"/>
<line x1="1874.5" y1="1780.7" x2="2483.3" y2="1780.7" stroke="#f6f6fa" stroke-width="1.6"/>
<line x1="1874.5" y1="1737.3" x2="2483.3" y2="1737.3" stroke="#f6f6fa" stroke-width="1.6"/>
<line x1="1874.5" y1="1693.8" x2="2483.3" y2="1693.8" stroke="#f6f6fa" stroke-width="1.6"/>
<line x1="1874.5" y1="1650.4" x2="2483.3" y2="1650.4" stroke="#f6f6fa" stroke-width="1.6"/>
<rect x="1877.5" y="1641.3" width="24.2" height="269.7" fill="#56708e"/>
<text transform="translate(1878.1,1976.0) rotate(72)" font-family="Liberation Sans" font-size="15.6" fill="#454545">Amidar</text>
<rect x="1907.9" y="1657.4" width="24.2" height="253.6" fill="#627a96"/>
<text transform="translate(1908.5,1976.0) rotate(72)" font-family="Liberation Sans" font-size="15.6" fill="#454545">Asterix</text>
<rect x="1938.3" y="1821.5" width="24.2" height="89.5" fill="#6e849e"/>
<text transform="translate(1938.9,1976.0) rotate(72)" font-family="Liberation Sans" font-size="15.6" fill="#454545">Assault</text>
<rect x="1968.8" y="1835.0" width="24.2" height="76.0" fill="#7a8da6"/>
<text transform="translate(1969.4,1976.0) rotate(72)" font-family="Liberation Sans" font-size="15.6" fill="#454545">Enduro</text>
<rect x="1999.2" y="1836.7" width="24.2" height="74.3" fill="#8697ae"/>
<text transform="translate(1999.8,1976.0) rotate(72)" font-family="Liberation Sans" font-size="15.6" fill="#454545">Space.</text>
<rect x="2029.6" y="1883.2" width="24.2" height="27.8" fill="#93a2b6"/>
<text transform="translate(2035.2,1976.0) rotate(72)" font-family="Liberation Sans" font-size="15.6" fill="#454545">Hero</text>
<rect x="2060.0" y="1885.4" width="24.2" height="25.6" fill="#9fadbd"/>
<text transform="translate(2060.6,1976.0) rotate(72)" font-family="Liberation Sans" font-size="15.6" fill="#454545">BeamRider</text>
<rect x="2090.4" y="1894.1" width="24.2" height="16.9" fill="#acb7c5"/>
<text transform="translate(2091.0,1976.0) rotate(72)" font-family="Liberation Sans" font-size="15.6" fill="#454545">Berzerk</text>
<rect x="2120.9" y="1896.2" width="24.2" height="14.8" fill="#b8c2cc"/>
<text transform="translate(2121.5,1976.0) rotate(72)" font-family="Liberation Sans" font-size="15.6" fill="#454545">KungFu.</text>
<rect x="2151.3" y="1898.8" width="24.2" height="12.2" fill="#c5cdd4"/>
<text transform="translate(2151.9,1976.0) rotate(72)" font-family="Liberation Sans" font-size="15.6" fill="#454545">UpNDown</text>
<rect x="2181.7" y="1901.0" width="24.2" height="10.0" fill="#d1d6db"/>
<text transform="translate(2182.3,1976.0) rotate(72)" font-family="Liberation Sans" font-size="15.6" fill="#454545">Riverraid</text>
<rect x="2212.1" y="1901.0" width="24.2" height="10.0" fill="#dde0e2"/>
<text transform="translate(2212.7,1976.0) rotate(72)" font-family="Liberation Sans" font-size="15.6" fill="#454545">MsPacman</text>
<rect x="2242.5" y="1903.4" width="24.2" height="7.6" fill="#e9e9e9"/>
<text transform="translate(2243.1,1976.0) rotate(72)" font-family="Liberation Sans" font-size="15.6" fill="#454545">Breakout</text>
<rect x="2273.0" y="1903.6" width="24.2" height="7.4" fill="#e5dbdc"/>
<text transform="translate(2273.6,1976.0) rotate(72)" font-family="Liberation Sans" font-size="15.6" fill="#454545">Zaxxon</text>
<rect x="2303.4" y="1908.0" width="24.2" height="3.0" fill="#e0cecf"/>
<text transform="translate(2304.0,1976.0) rotate(72)" font-family="Liberation Sans" font-size="15.6" fill="#454545">Robotank</text>
<rect x="2333.8" y="1910.0" width="24.2" height="1.6" fill="#dcc0c2"/>
<text transform="translate(2339.4,1976.0) rotate(72)" font-family="Liberation Sans" font-size="15.6" fill="#454545">Pong</text>
<rect x="2364.2" y="1911.0" width="24.2" height="6.5" fill="#d4b3b6"/>
<text transform="translate(2369.8,1976.0) rotate(72)" font-family="Liberation Sans" font-size="15.6" fill="#454545">Pitfall</text>
<rect x="2394.6" y="1911.0" width="24.2" height="24.3" fill="#cda5aa"/>
<text transform="translate(2395.2,1976.0) rotate(72)" font-family="Liberation Sans" font-size="15.6" fill="#454545">PrivateEye</text>
<rect x="2425.1" y="1911.0" width="24.2" height="35.2" fill="#c5989d"/>
<text transform="translate(2425.7,1976.0) rotate(72)" font-family="Liberation Sans" font-size="15.6" fill="#454545">Chopper.</text>
<rect x="2455.5" y="1911.0" width="24.2" height="37.3" fill="#bd8a91"/>
<text transform="translate(2456.1,1976.0) rotate(72)" font-family="Liberation Sans" font-size="15.6" fill="#454545">Seaquest</text>
<text x="1868.6" y="1921.3" font-family="Liberation Serif" font-size="30.5" text-anchor="end" fill="#000" font-weight="bold">0</text>
<text x="1868.6" y="1834.4" font-family="Liberation Serif" font-size="30.5" text-anchor="end" fill="#000" font-weight="bold">200</text>
<text x="1868.6" y="1747.6" font-family="Liberation Serif" font-size="30.5" text-anchor="end" fill="#000" font-weight="bold">400</text>
<text x="1868.6" y="1660.7" font-family="Liberation Serif" font-size="30.5" text-anchor="end" fill="#000" font-weight="bold">600</text>
<text x="1971.9" y="1612.4" font-family="Liberation Serif" font-size="26.5" font-weight="bold" fill="#000" textLength="387.9" lengthAdjust="spacing">MVI(q) improvement over MVI</text>
<text transform="translate(1798,1794) rotate(-90)" font-family="Liberation Serif" font-size="34.5" font-weight="bold" text-anchor="middle" fill="#000" textLength="255" lengthAdjust="spacing">Improvement (%)</text>
<rect x="2640.8" y="1645.2" width="604.8" height="321.1" fill="#e9e9f2"/>
<line x1="2640.8" y1="1937.8" x2="3245.6" y2="1937.8" stroke="#f6f6fa" stroke-width="1.6"/>
<line x1="2640.8" y1="1882.1" x2="3245.6" y2="1882.1" stroke="#f6f6fa" stroke-width="1.6"/>
<line x1="2640.8" y1="1826.4" x2="3245.6" y2="1826.4" stroke="#f6f6fa" stroke-width="1.6"/>
<line x1="2640.8" y1="1770.8" x2="3245.6" y2="1770.8" stroke="#f6f6fa" stroke-width="1.6"/>
<line x1="2640.8" y1="1715.1" x2="3245.6" y2="1715.1" stroke="#f6f6fa" stroke-width="1.6"/>
<line x1="2640.8" y1="1659.4" x2="3245.6" y2="1659.4" stroke="#f6f6fa" stroke-width="1.6"/>
<rect x="2643.1" y="1659.4" width="13.9" height="278.4" fill="#56708e"/>
<text transform="translate(2638.5,1978.3) rotate(72)" font-family="Liberation Sans" font-size="15.6" fill="#454545">RoadRun.</text>
<rect x="2660.9" y="1660.8" width="13.9" height="277.0" fill="#5d7693"/>
<text transform="translate(2656.3,1978.3) rotate(72)" font-family="Liberation Sans" font-size="15.6" fill="#454545">Amidar</text>
<rect x="2678.6" y="1666.1" width="13.9" height="271.7" fill="#647b97"/>
<text transform="translate(2674.1,1978.3) rotate(72)" font-family="Liberation Sans" font-size="15.6" fill="#454545">Assault</text>
<rect x="2696.4" y="1748.8" width="13.9" height="189.0" fill="#6b819c"/>
<text transform="translate(2691.9,1978.3) rotate(72)" font-family="Liberation Sans" font-size="15.6" fill="#454545">Zaxxon</text>
<rect x="2714.2" y="1794.4" width="13.9" height="143.4" fill="#7287a0"/>
<text transform="translate(2709.6,1978.3) rotate(72)" font-family="Liberation Sans" font-size="15.6" fill="#454545">Riverraid</text>
<rect x="2731.9" y="1811.7" width="13.9" height="126.1" fill="#798ca5"/>
<text transform="translate(2727.4,1978.3) rotate(72)" font-family="Liberation Sans" font-size="15.6" fill="#454545">Seaquest</text>
<rect x="2749.7" y="1829.2" width="13.9" height="108.6" fill="#8092aa"/>
<text transform="translate(2750.2,1978.3) rotate(72)" font-family="Liberation Sans" font-size="15.6" fill="#454545">Hero</text>
<rect x="2767.5" y="1832.3" width="13.9" height="105.5" fill="#8797ae"/>
<text transform="translate(2762.9,1978.3) rotate(72)" font-family="Liberation Sans" font-size="15.6" fill="#454545">Robotank</text>
<rect x="2785.3" y="1839.2" width="13.9" height="98.6" fill="#8e9eb3"/>
<text transform="translate(2780.7,1978.3) rotate(72)" font-family="Liberation Sans" font-size="15.6" fill="#454545">PrivateEye</text>
<rect x="2803.0" y="1854.0" width="13.9" height="83.8" fill="#95a4b7"/>
<text transform="translate(2803.5,1978.3) rotate(72)" font-family="Liberation Sans" font-size="15.6" fill="#454545">Alien</text>
<rect x="2820.8" y="1883.0" width="13.9" height="54.8" fill="#9caabb"/>
<text transform="translate(2816.2,1978.3) rotate(72)" font-family="Liberation Sans" font-size="15.6" fill="#454545">Berzerk</text>
<rect x="2838.6" y="1887.7" width="13.9" height="50.1" fill="#a3b0c0"/>
<text transform="translate(2834.0,1978.3) rotate(72)" font-family="Liberation Sans" font-size="15.6" fill="#454545">Centipede</text>
<rect x="2856.3" y="1893.5" width="13.9" height="44.3" fill="#abb6c4"/>
<text transform="translate(2851.8,1978.3) rotate(72)" font-family="Liberation Sans" font-size="15.6" fill="#454545">Kangaroo</text>
<rect x="2874.1" y="1897.7" width="13.9" height="40.1" fill="#b2bcc8"/>
<text transform="translate(2869.6,1978.3) rotate(72)" font-family="Liberation Sans" font-size="15.6" fill="#454545">Frostbite</text>
<rect x="2891.9" y="1903.8" width="13.9" height="34.0" fill="#b9c3cc"/>
<text transform="translate(2887.3,1978.3) rotate(72)" font-family="Liberation Sans" font-size="15.6" fill="#454545">KungFu.</text>
<rect x="2909.7" y="1908.0" width="13.9" height="29.8" fill="#c0c9d1"/>
<text transform="translate(2905.1,1978.3) rotate(72)" font-family="Liberation Sans" font-size="15.6" fill="#454545">MsPacman</text>
<rect x="2927.4" y="1909.7" width="13.9" height="28.1" fill="#c7cfd5"/>
<text transform="translate(2922.9,1978.3) rotate(72)" font-family="Liberation Sans" font-size="15.6" fill="#454545">Tutankham</text>
<rect x="2945.2" y="1916.1" width="13.9" height="21.7" fill="#ced4d9"/>
<text transform="translate(2940.6,1978.3) rotate(72)" font-family="Liberation Sans" font-size="15.6" fill="#454545">Boxing</text>
<rect x="2963.0" y="1921.7" width="13.9" height="16.1" fill="#d5dadd"/>
<text transform="translate(2958.4,1978.3) rotate(72)" font-family="Liberation Sans" font-size="15.6" fill="#454545">Breakout</text>
<rect x="2980.7" y="1921.7" width="13.9" height="16.1" fill="#dcdfe2"/>
<text transform="translate(2976.2,1978.3) rotate(72)" font-family="Liberation Sans" font-size="15.6" fill="#454545">Asteroids</text>
<rect x="2998.5" y="1923.6" width="13.9" height="14.2" fill="#e3e5e6"/>
<text transform="translate(2993.9,1978.3) rotate(72)" font-family="Liberation Sans" font-size="15.6" fill="#454545">Enduro</text>
<rect x="3016.3" y="1926.9" width="13.9" height="10.9" fill="#e8e7e7"/>
<text transform="translate(3016.7,1978.3) rotate(72)" font-family="Liberation Sans" font-size="15.6" fill="#454545">Pong</text>
<rect x="3034.0" y="1929.2" width="13.9" height="8.6" fill="#e6e0e0"/>
<text transform="translate(3029.5,1978.3) rotate(72)" font-family="Liberation Sans" font-size="15.6" fill="#454545">Asterix</text>
<rect x="3051.8" y="1934.2" width="13.9" height="3.6" fill="#e4d8d9"/>
<text transform="translate(3047.3,1978.3) rotate(72)" font-family="Liberation Sans" font-size="15.6" fill="#454545">StarGunner</text>
<rect x="3069.6" y="1934.5" width="13.9" height="3.3" fill="#e1d0d1"/>
<text transform="translate(3065.0,1978.3) rotate(72)" font-family="Liberation Sans" font-size="15.6" fill="#454545">Chopper.</text>
<rect x="3087.3" y="1935.9" width="13.9" height="1.9" fill="#dfc8ca"/>
<text transform="translate(3082.8,1978.3) rotate(72)" font-family="Liberation Sans" font-size="15.6" fill="#454545">Jamesbond</text>
<rect x="3105.1" y="1936.1" width="13.9" height="1.7" fill="#dcc1c3"/>
<text transform="translate(3100.6,1978.3) rotate(72)" font-family="Liberation Sans" font-size="15.6" fill="#454545">Gopher</text>
<rect x="3122.9" y="1936.4" width="13.9" height="1.4" fill="#d8b9bb"/>
<text transform="translate(3118.3,1978.3) rotate(72)" font-family="Liberation Sans" font-size="15.6" fill="#454545">Space.</text>
<rect x="3140.7" y="1936.4" width="13.9" height="1.4" fill="#d3b1b4"/>
<text transform="translate(3136.1,1978.3) rotate(72)" font-family="Liberation Sans" font-size="15.6" fill="#454545">BeamRider</text>
<rect x="3158.4" y="1936.8" width="13.9" height="1.6" fill="#cfa9ad"/>
<text transform="translate(3153.9,1978.3) rotate(72)" font-family="Liberation Sans" font-size="15.6" fill="#454545">BankHeist</text>
<rect x="3176.2" y="1936.8" width="13.9" height="1.6" fill="#caa1a6"/>
<text transform="translate(3176.6,1978.3) rotate(72)" font-family="Liberation Sans" font-size="15.6" fill="#454545">Krull</text>
<rect x="3194.0" y="1937.8" width="13.9" height="3.6" fill="#c69a9f"/>
<text transform="translate(3189.4,1978.3) rotate(72)" font-family="Liberation Sans" font-size="15.6" fill="#454545">UpNDown</text>
<rect x="3211.7" y="1937.8" width="13.9" height="7.0" fill="#c19298"/>
<text transform="translate(3212.2,1978.3) rotate(72)" font-family="Liberation Sans" font-size="15.6" fill="#454545">Pitfall</text>
<rect x="3229.5" y="1937.8" width="13.9" height="13.9" fill="#bd8a91"/>
<text transform="translate(3225.0,1978.3) rotate(72)" font-family="Liberation Sans" font-size="15.6" fill="#454545">Atlantis</text>
<text x="2635.9" y="1892.4" font-family="Liberation Serif" font-size="30.5" text-anchor="end" fill="#000" font-weight="bold">200</text>
<text x="2635.9" y="1781.1" font-family="Liberation Serif" font-size="30.5" text-anchor="end" fill="#000" font-weight="bold">600</text>
<text x="2635.9" y="1669.7" font-family="Liberation Serif" font-size="30.5" text-anchor="end" fill="#000" font-weight="bold">1000</text>
<text x="2694.8" y="1632.3" font-family="Liberation Serif" font-size="26.5" font-weight="bold" fill="#000" textLength="445.9" lengthAdjust="spacing">MVI(q) improvement over Tsallis-VI</text>
<text transform="translate(2564.7,1815.5) rotate(-90)" font-family="Liberation Serif" font-size="34.5" font-weight="bold" text-anchor="middle" fill="#000" textLength="255" lengthAdjust="spacing">Improvement (%)</text></svg>
<svg class="abs" style="left:0;top:0" width="3370" height="2383" viewBox="0 0 3370 2383"><path d="M41 170 Q106.6 138 172.1 170 L172.1 239.6 C171.5 262 160 285 140 300.5 C128 310 116 317 106.6 320.9 C97 317 85 310 73 300.5 C53 285 41.6 262 41 239.6 Z" fill="#415f3e"/>
<path d="M51.8 176.6 Q106.6 153.8 161.4 176.6 L161.4 229.8 L144.8 213.6 L129.3 229 L106.6 206.1 L84 229 L68.4 213.6 L51.8 229.8 Z" fill="#fff"/>
<path d="M81.5 177.2 H85.2 V174.6 C92 172.2 100 172.2 106.6 174.4 C113.2 172.2 121.2 172.2 128 174.6 V177.2 H131.8 V200.8 H81.5 Z" fill="#415f3e"/>
<path d="M88.9 177.3 C94 175.9 100 175.9 104.6 177.2 V195.2 C100 194 94 194 88.9 195.2 Z" fill="#fff"/>
<path d="M108.6 177.2 C113.2 175.9 119.2 175.9 124.3 177.3 V195.2 C119.2 194 113.2 194 108.6 195.2 Z" fill="#fff"/>
<path d="M51.8 244.2 C58 243.6 61.5 239 67.8 239 C75 239 79 244.3 87.4 244.3 C95 244.3 99.5 239 106.6 239 C113.7 239 118.2 244.3 125.9 244.3 C134.2 244.3 138.2 239 145.4 239 C151.7 239 155.2 243.6 161.4 244.2" fill="none" stroke="#fff" stroke-width="9.2"/>
<path d="M70.39999999999999 256.4 L72.2 254.6 L79.3 260.8 L86.39999999999999 254.6 L88.2 256.4 L88.2 263.0 L79.3 271.5 L70.39999999999999 263.0 Z" fill="#fff"/>
<path d="M70.39999999999999 273.40000000000003 L72.2 271.6 L79.3 277.8 L86.39999999999999 271.6 L88.2 273.40000000000003 L88.2 280.0 L79.3 288.5 L70.39999999999999 280.0 Z" fill="#fff"/>
<path d="M97.69999999999999 256.4 L99.5 254.6 L106.6 260.8 L113.69999999999999 254.6 L115.5 256.4 L115.5 263.0 L106.6 271.5 L97.69999999999999 263.0 Z" fill="#fff"/>
<path d="M97.69999999999999 273.40000000000003 L99.5 271.6 L106.6 277.8 L113.69999999999999 271.6 L115.5 273.40000000000003 L115.5 280.0 L106.6 288.5 L97.69999999999999 280.0 Z" fill="#fff"/>
<path d="M125.0 256.4 L126.80000000000001 254.6 L133.9 260.8 L141.0 254.6 L142.8 256.4 L142.8 263.0 L133.9 271.5 L125.0 263.0 Z" fill="#fff"/>
<path d="M125.0 273.40000000000003 L126.80000000000001 271.6 L133.9 277.8 L141.0 271.6 L142.8 273.40000000000003 L142.8 280.0 L133.9 288.5 L125.0 280.0 Z" fill="#fff"/>
<path d="M97.69999999999999 290.40000000000003 L99.5 288.6 L106.6 294.8 L113.69999999999999 288.6 L115.5 290.40000000000003 L115.5 297.0 L106.6 305.5 L97.69999999999999 297.0 Z" fill="#fff"/>
<path d="M80 294.4 L86.3 288.2 L88.2 290 L88.2 297.2 L86 299 Z" fill="#fff"/>
<path d="M133.2 294.4 L126.9 288.2 L125 290 L125 297.2 L127.2 299 Z" fill="#fff"/>
<text x="213" y="225.4" font-family="Liberation Sans" font-weight="bold" font-size="72" fill="#415f3e" stroke="#415f3e" stroke-width="1.6" textLength="437" lengthAdjust="spacingAndGlyphs">UNIVERSITY</text>
<text x="213" y="296.6" font-family="Liberation Sans" font-weight="bold" font-size="72" fill="#415f3e" stroke="#415f3e" stroke-width="1.6" textLength="437" lengthAdjust="spacingAndGlyphs">OF ALBERTA</text>
<path d="M2880.1 135.4 Q2893.2 147.7 2905.5 148.2 Q2918.6 146.9 2925.5 131.6 " fill="none" stroke="#62468a" stroke-width="10.0" stroke-linecap="round" stroke-linejoin="round"/>
<path d="M2907.8 149.3 Q2916.2 160.8 2927.0 170.8 " fill="none" stroke="#62468a" stroke-width="8.4" stroke-linecap="round" stroke-linejoin="round"/>
<ellipse cx="2880.1" cy="135.4" rx="8.0" ry="7.1" fill="#62468a" transform="rotate(35 2880.1 135.4)"/>
<ellipse cx="2925.5" cy="131.6" rx="6.8" ry="8.6" fill="#62468a" transform="rotate(5 2925.5 131.6)"/>
<ellipse cx="2927.0" cy="170.8" rx="4.3" ry="4.9" fill="#62468a" transform="rotate(0 2927.0 170.8)"/>
<ellipse cx="2903.6" cy="132.8" rx="7.2" ry="9.2" fill="#62468a" transform="rotate(-5 2903.6 132.8)"/>
<path d="M2837.7 157.0 Q2856.2 167.7 2871.6 166.7 Q2887.0 171.6 2899.3 178.5 " fill="none" stroke="#62468a" stroke-width="9.2" stroke-linecap="round" stroke-linejoin="round"/>
<path d="M2872.8 167.7 Q2870.8 183.9 2872.4 199.3 " fill="none" stroke="#62468a" stroke-width="7.2" stroke-linecap="round" stroke-linejoin="round"/>
<ellipse cx="2837.7" cy="157.0" rx="8.6" ry="6.8" fill="#62468a" transform="rotate(25 2837.7 157.0)"/>
<ellipse cx="2899.3" cy="178.8" rx="5.5" ry="5.1" fill="#62468a" transform="rotate(0 2899.3 178.8)"/>
<ellipse cx="2872.4" cy="199.3" rx="5.5" ry="5.5" fill="#62468a" transform="rotate(0 2872.4 199.3)"/>
<ellipse cx="2857.7" cy="146.2" rx="8.6" ry="8.9" fill="#62468a" transform="rotate(30 2857.7 146.2)"/>
<ellipse cx="2890.8" cy="159.3" rx="6.2" ry="7.1" fill="#62468a" transform="rotate(-10 2890.8 159.3)"/>
<ellipse cx="2926.2" cy="153.1" rx="5.2" ry="6.5" fill="#62468a" transform="rotate(0 2926.2 153.1)"/>
<ellipse cx="2943.2" cy="154.6" rx="4.2" ry="5.7" fill="#62468a" transform="rotate(0 2943.2 154.6)"/>
<ellipse cx="2946.0" cy="136.2" rx="5.7" ry="8.0" fill="#62468a" transform="rotate(-5 2946.0 136.2)"/>
<ellipse cx="2957.0" cy="161.6" rx="3.8" ry="5.1" fill="#62468a" transform="rotate(0 2957.0 161.6)"/>
<ellipse cx="2940.9" cy="170.8" rx="3.7" ry="4.3" fill="#62468a" transform="rotate(0 2940.9 170.8)"/>
<ellipse cx="2913.2" cy="173.1" rx="4.3" ry="4.9" fill="#62468a" transform="rotate(0 2913.2 173.1)"/>
<ellipse cx="2826.2" cy="178.5" rx="9.2" ry="8.0" fill="#62468a" transform="rotate(25 2826.2 178.5)"/>
<ellipse cx="2852.4" cy="190.0" rx="7.4" ry="5.8" fill="#62468a" transform="rotate(20 2852.4 190.0)"/>
<ellipse cx="2887.8" cy="187.7" rx="5.2" ry="5.2" fill="#62468a" transform="rotate(0 2887.8 187.7)"/>
<ellipse cx="2825.0" cy="202.4" rx="9.2" ry="7.1" fill="#62468a" transform="rotate(15 2825.0 202.4)"/>
<ellipse cx="2977.1" cy="155.4" rx="4.0" ry="6.2" fill="#62468a" transform="rotate(0 2977.1 155.4)"/>
<ellipse cx="2996.3" cy="177.7" rx="2.6" ry="4.2" fill="#62468a" transform="rotate(-20 2996.3 177.7)"/>
<ellipse cx="3003.2" cy="185.4" rx="1.5" ry="2.8" fill="#62468a" transform="rotate(-20 3003.2 185.4)"/>
<ellipse cx="2811.1" cy="181.1" rx="3.4" ry="1.5" fill="#62468a" transform="rotate(-15 2811.1 181.1)"/>
<path d="M2963.2 145.4 Q2964.3 160.8 2968.9 169.7 Q2977.8 165.1 2987.8 168.2 " fill="none" stroke="#62468a" stroke-width="6.8" stroke-linecap="round" stroke-linejoin="round"/>
<ellipse cx="2963.2" cy="145.1" rx="4.9" ry="7.7" fill="#62468a" transform="rotate(-5 2963.2 145.1)"/>
<ellipse cx="2987.8" cy="168.2" rx="4.2" ry="5.2" fill="#62468a" transform="rotate(10 2987.8 168.2)"/>
<ellipse cx="2807.7" cy="190.0" rx="4.6" ry="2.3" fill="#8a6da6" transform="rotate(-15 2807.7 190.0)"/>
<path d="M2803.9 203.1 Q2808.5 211.6 2813.4 218.1 Q2802.3 227.0 2793.1 236.5 " fill="none" stroke="#8a6da6" stroke-width="6.4" stroke-linecap="round" stroke-linejoin="round"/>
<ellipse cx="2803.9" cy="202.8" rx="5.8" ry="4.2" fill="#8a6da6" transform="rotate(-10 2803.9 202.8)"/>
<ellipse cx="2793.1" cy="236.5" rx="5.8" ry="4.2" fill="#8a6da6" transform="rotate(-25 2793.1 236.5)"/>
<ellipse cx="2797.4" cy="218.5" rx="5.8" ry="3.8" fill="#8a6da6" transform="rotate(-15 2797.4 218.5)"/>
<ellipse cx="2812.8" cy="232.4" rx="5.2" ry="3.7" fill="#8a6da6" transform="rotate(-20 2812.8 232.4)"/>
<ellipse cx="2828.5" cy="242.4" rx="4.3" ry="3.2" fill="#8a6da6" transform="rotate(-20 2828.5 242.4)"/>
<ellipse cx="2814.3" cy="247.8" rx="5.8" ry="4.5" fill="#8a6da6" transform="rotate(-25 2814.3 247.8)"/>
<ellipse cx="2795.4" cy="254.7" rx="7.7" ry="5.2" fill="#8a6da6" transform="rotate(-25 2795.4 254.7)"/>
<ellipse cx="2820.8" cy="263.2" rx="6.5" ry="5.2" fill="#8a6da6" transform="rotate(-25 2820.8 263.2)"/>
<ellipse cx="2845.0" cy="264.4" rx="4.9" ry="4.5" fill="#8a6da6" transform="rotate(-10 2845.0 264.4)"/>
<ellipse cx="2812.3" cy="294.0" rx="8.6" ry="7.4" fill="#8a6da6" transform="rotate(-35 2812.3 294.0)"/>
<ellipse cx="2843.9" cy="290.9" rx="6.2" ry="7.1" fill="#8a6da6" transform="rotate(20 2843.9 290.9)"/>
<ellipse cx="2869.8" cy="280.1" rx="4.9" ry="5.4" fill="#8a6da6" transform="rotate(0 2869.8 280.1)"/>
<ellipse cx="2888.5" cy="310.9" rx="5.8" ry="7.4" fill="#8a6da6" transform="rotate(0 2888.5 310.9)"/>
<ellipse cx="2848.5" cy="326.3" rx="7.7" ry="9.5" fill="#8a6da6" transform="rotate(20 2848.5 326.3)"/>
<ellipse cx="2890.8" cy="339.4" rx="7.7" ry="10.0" fill="#8a6da6" transform="rotate(10 2890.8 339.4)"/>
<ellipse cx="2912.4" cy="328.6" rx="7.4" ry="9.5" fill="#8a6da6" transform="rotate(10 2912.4 328.6)"/>
<path d="M2801.6 274.7 Q2819.3 267.8 2831.6 274.7 " fill="none" stroke="#8a6da6" stroke-width="11.2" stroke-linecap="round" stroke-linejoin="round"/>
<path d="M2835.4 253.9 Q2834.7 263.9 2832.3 274.7 Q2835.4 291.7 2829.3 310.1 " fill="none" stroke="#8a6da6" stroke-width="10.0" stroke-linecap="round" stroke-linejoin="round"/>
<ellipse cx="2801.6" cy="274.7" rx="8.6" ry="6.8" fill="#8a6da6" transform="rotate(-20 2801.6 274.7)"/>
<ellipse cx="2835.4" cy="253.9" rx="4.3" ry="4.6" fill="#8a6da6" transform="rotate(0 2835.4 253.9)"/>
<ellipse cx="2828.5" cy="310.9" rx="8.3" ry="9.2" fill="#8a6da6" transform="rotate(20 2828.5 310.9)"/>
<path d="M2856.2 275.5 Q2857.7 288.6 2862.4 297.0 Q2876.2 293.2 2887.8 288.6 " fill="none" stroke="#8a6da6" stroke-width="8.4" stroke-linecap="round" stroke-linejoin="round"/>
<path d="M2861.6 297.0 Q2859.0 310.1 2865.4 320.9 Q2870.4 330.1 2868.5 337.8 " fill="none" stroke="#8a6da6" stroke-width="9.2" stroke-linecap="round" stroke-linejoin="round"/>
<ellipse cx="2856.2" cy="275.5" rx="5.4" ry="6.2" fill="#8a6da6" transform="rotate(0 2856.2 275.5)"/>
<ellipse cx="2887.8" cy="288.6" rx="4.9" ry="5.4" fill="#8a6da6" transform="rotate(0 2887.8 288.6)"/>
<ellipse cx="2868.5" cy="338.1" rx="7.7" ry="9.9" fill="#8a6da6" transform="rotate(5 2868.5 338.1)"/>
<text x="2894.8" y="229.9" font-family="Liberation Sans" font-size="36.3" fill="#3a3b40" stroke="#3a3b40" stroke-width="0.5" textLength="423.5" lengthAdjust="spacingAndGlyphs">NEURAL INFORMATION</text>
<text x="2894.8" y="269.3" font-family="Liberation Sans" font-size="36.3" fill="#3a3b40" stroke="#3a3b40" stroke-width="0.5" textLength="421.6" lengthAdjust="spacingAndGlyphs">PROCESSING SYSTEMS</text>
<rect x="3147" y="2168" width="83.5" height="83.5" fill="#9e5b7c"/><rect x="3230.3" y="2168" width="83.8" height="83.5" fill="#7872ba"/><rect x="3147" y="2251.4" width="83.5" height="83.4" fill="#8ebd7a"/><rect x="3230.3" y="2251.4" width="83.8" height="83.4" fill="#bbcf63"/>
<text x="3163.7" y="2236.6" font-family="Liberation Serif" font-size="83" fill="#1c1d1b" textLength="54.8" lengthAdjust="spacingAndGlyphs">R</text>
<text x="3249" y="2236.6" font-family="Liberation Serif" font-size="83" fill="#1c1d1b" textLength="48.8" lengthAdjust="spacingAndGlyphs">L</text>
<text x="3159.2" y="2320.2" font-family="Liberation Serif" font-size="83" fill="#1c1d1b" textLength="56.9" lengthAdjust="spacingAndGlyphs">A</text>
<text x="3258.8" y="2320.2" font-family="Liberation Serif" font-size="83" fill="#1c1d1b" textLength="24.8" lengthAdjust="spacingAndGlyphs">I</text>
<text x="3232.3" y="2263.5" font-family="Liberation Serif" font-size="36" fill="#ececec" text-anchor="middle">&amp;</text></svg>
<div class="ln" style="left:56.3px;top:435.02px;font-size:50px;letter-spacing:2.293px;--ls:2.293px;"><span><b>M<span style="font-size:0.8em">OTIVATION</span></b></span></div>
<div class="ln" style="left:56.3px;top:984.12px;font-size:50px;letter-spacing:1.618px;--ls:1.618px;"><span><b>M<span style="font-size:0.8em">ETHOD</span></b></span></div>
<div class="ln" style="left:1717.6px;top:435.02px;font-size:50px;letter-spacing:1.629px;--ls:1.629px;"><span><b>A<span style="font-size:0.8em">LGORITHM</span></b></span></div>
<div class="ln" style="left:1717.6px;top:1301.43px;font-size:50px;letter-spacing:0.860px;--ls:0.860px;"><span><b>R<span style="font-size:0.8em">ESULTS</span></b></span></div>
<div class="ln" style="left:56.3px;top:2076.12px;font-size:50px;letter-spacing:0.352px;--ls:0.352px;"><span><b>R<span style="font-size:0.8em">EFERENCES</span></b></span></div>
<div class="ln" style="left:848.5px;top:-4.46px;font-size:87px;letter-spacing:0.370px;--ls:0.370px;color:#202020;word-spacing:-7px;"><span><b>General Munchausen Reinforcement Learning</b></span></div>
<div class="ln" style="left:948.5px;top:79.14px;font-size:87px;letter-spacing:0.836px;--ls:0.836px;color:#202020;word-spacing:-7px;"><span><b>with Tsallis Kullback-Leibler Divergence</b></span></div>
<div class="ln" style="left:913.6px;top:176.82px;font-size:50px;letter-spacing:1.739px;--ls:1.739px;color:#202020;"><span>L<span style="font-size:0.800em">INGWEI</span> Z<span style="font-size:0.800em">HU</span> <span class="sb" style="font-size:0.66em;top:-0.50em">1</span>, Z<span style="font-size:0.800em">HENG</span> C<span style="font-size:0.800em">HEN</span> <span class="sb" style="font-size:0.66em;top:-0.50em">2</span>, M<span style="font-size:0.800em">ATTHEW</span> S<span style="font-size:0.800em">CHLEGEL</span> <span class="sb" style="font-size:0.66em;top:-0.50em">1</span>, M<span style="font-size:0.800em">ARTHA</span> W<span style="font-size:0.800em">HITE</span> <span class="sb" style="font-size:0.66em;top:-0.50em">1</span></span></div>
<div class="ln" style="left:1335.3px;top:237.26px;font-size:49px;letter-spacing:2.164px;--ls:2.164px;color:#202020;"><span><span class="sb" style="font-size:0.66em;top:-0.50em">1</span> U<span style="font-size:0.800em">NIVERSITY</span> <span style="font-size:0.800em">OF</span> A<span style="font-size:0.800em">LBERTA,</span>&nbsp;&nbsp; C<span style="font-size:0.800em">ANADA</span></span></div>
<div class="ln" style="left:1427.3px;top:286.86px;font-size:49px;letter-spacing:2.138px;--ls:2.138px;color:#202020;"><span><span class="sb" style="font-size:0.66em;top:-0.50em">1</span> O<span style="font-size:0.800em">SAKA</span> U<span style="font-size:0.800em">NIVERSITY,</span>&nbsp; J<span style="font-size:0.800em">APAN</span></span></div>
<div class="ln" style="left:57.0px;top:499.02px;font-size:42px;word-spacing:-1.029px;transform:scaleX(1.0600);"><span>Entropy-regularized dynamic programming that augments the standard Bellman recursion</span></div>
<div class="ln" style="left:57.0px;top:546.43px;font-size:42px;word-spacing:-0.900px;transform:scaleX(1.0600);"><span>with regularizer <span class="m">Ω(<i>π</i>)</span> has gained much popularity recently:</span></div>
<div class="ln" style="left:508.5px;top:636.83px;font-size:42px;letter-spacing:0.097px;--ls:0.097px;transform:scaleX(1.0600);"><span><span class="m"><i>π</i><span class="sb" style="font-size:0.7em;top:0.243em"><i>k</i>+1</span><span style="display:inline-block;width:0.28em"></span>=<span style="display:inline-block;width:0.28em"></span>arg<span style="display:inline-block;width:0.17em"></span>max<span class="sb" style="font-size:0.7em;top:0.314em"><i>π</i></span>(<svg class="g" width="13" height="42" viewBox="0 0 13 42" style="vertical-align:-11px"><path d="M10.5 1.5 L2.5 21.0 L10.5 40.5" fill="none" stroke="currentColor" stroke-width="1.7" stroke-linejoin="miter"/></svg><i>π</i>,<span style="display:inline-block;width:0.17em"></span><i>Q</i><span class="sb" style="font-size:0.7em;top:0.243em"><i>k</i></span><svg class="g" width="13" height="42" viewBox="0 0 13 42" style="vertical-align:-11px"><path d="M2.5 1.5 L10.5 21.0 L2.5 40.5" fill="none" stroke="currentColor" stroke-width="1.7" stroke-linejoin="miter"/></svg><span style="display:inline-block;width:0.22em"></span>−<span style="display:inline-block;width:0.22em"></span><i>τ</i>Ω(<i>π</i>))<span style="display:inline-block;width:0.17em"></span>,</span></span></div>
<div class="ln" style="left:509.2px;top:689.12px;font-size:42px;letter-spacing:0.847px;--ls:0.847px;transform:scaleX(1.0600);"><span><span class="m"><i>Q</i><span class="sb" style="font-size:0.7em;top:0.243em"><i>k</i>+1</span><span style="display:inline-block;width:0.28em"></span>=<span style="display:inline-block;width:0.28em"></span><i>r</i><span style="display:inline-block;width:0.22em"></span>+<span style="display:inline-block;width:0.22em"></span><i>γ</i><i>P</i>(<svg class="g" width="13" height="42" viewBox="0 0 13 42" style="vertical-align:-11px"><path d="M10.5 1.5 L2.5 21.0 L10.5 40.5" fill="none" stroke="currentColor" stroke-width="1.7" stroke-linejoin="miter"/></svg><i>π</i><span class="sb" style="font-size:0.7em;top:0.243em"><i>k</i>+1</span>,<span style="display:inline-block;width:0.17em"></span><i>Q</i><span class="sb" style="font-size:0.7em;top:0.243em"><i>k</i></span><svg class="g" width="13" height="42" viewBox="0 0 13 42" style="vertical-align:-11px"><path d="M2.5 1.5 L10.5 21.0 L2.5 40.5" fill="none" stroke="currentColor" stroke-width="1.7" stroke-linejoin="miter"/></svg><span style="display:inline-block;width:0.22em"></span>−<span style="display:inline-block;width:0.22em"></span><i>τ</i>Ω(<i>π</i><span class="sb" style="font-size:0.7em;top:0.243em"><i>k</i>+1</span>))<span style="display:inline-block;width:0.17em"></span>,</span></span></div>
<div class="ln" style="left:57.0px;top:780.02px;font-size:42px;word-spacing:5.802px;transform:scaleX(1.0600);"><span>Typical choices for <span class="m">Ω</span> are negative Shannon entropy <span class="m">−<i>H</i><span style="display:inline-block;width:0.17em"></span>(<i>π</i>) := <svg class="g" width="13" height="42" viewBox="0 0 13 42" style="vertical-align:-11px"><path d="M10.5 1.5 L2.5 21.0 L10.5 40.5" fill="none" stroke="currentColor" stroke-width="1.7" stroke-linejoin="miter"/></svg><i>π</i>,<span style="display:inline-block;width:0.17em"></span>ln<span style="display:inline-block;width:0.17em"></span><i>π</i><svg class="g" width="13" height="42" viewBox="0 0 13 42" style="vertical-align:-11px"><path d="M2.5 1.5 L10.5 21.0 L2.5 40.5" fill="none" stroke="currentColor" stroke-width="1.7" stroke-linejoin="miter"/></svg></span> and Kullback-</span></div>
<div class="ln" style="left:57.0px;top:824.23px;font-size:42px;word-spacing:4.773px;transform:scaleX(1.0600);"><span>Leibler divergence <span class="m"><i>D</i><span class="sb" style="font-size:0.7em;top:0.286em"><i>KL</i></span>(<i>π</i><span style="display:inline-block;width:0.17em"></span>‖<span style="display:inline-block;width:0.17em"></span><i>μ</i>) := <svg class="g" width="13" height="42" viewBox="0 0 13 42" style="vertical-align:-11px"><path d="M10.5 1.5 L2.5 21.0 L10.5 40.5" fill="none" stroke="currentColor" stroke-width="1.7" stroke-linejoin="miter"/></svg><i>π</i>,<span style="display:inline-block;width:0.17em"></span>ln<span style="display:inline-block;width:0.17em"></span><i>π</i><span style="display:inline-block;width:0.22em"></span>−<span style="display:inline-block;width:0.22em"></span>ln<span style="display:inline-block;width:0.17em"></span><i>μ</i><svg class="g" width="13" height="42" viewBox="0 0 13 42" style="vertical-align:-11px"><path d="M2.5 1.5 L10.5 21.0 L2.5 40.5" fill="none" stroke="currentColor" stroke-width="1.7" stroke-linejoin="miter"/></svg></span>.&nbsp; It is well-known that their regularized</span></div>
<div class="ln" style="left:57.0px;top:872.52px;font-size:42px;word-spacing:3.076px;transform:scaleX(1.0600);"><span>optimal policies are <span class="m"><i>π</i><span class="ss" style="font-size:0.7em"><span class="su" style="top:-0.600em"><i>H</i></span><span class="sd" style="top:0.371em"><i>k</i>+1</span><span class="sw"><i>k</i>+1</span></span><svg class="g" width="30.0" height="19.0" viewBox="0 0 30 19" style="vertical-align:-1px;margin:0 10px 0 9px"><path d="M29 1.5 C22 1.5 18.5 6 15.5 9.5 C12.5 13 9.5 17.5 5.5 17.5 C2.5 17.5 1.2 14 1.2 9.5 C1.2 5 2.5 1.5 5.5 1.5 C9.5 1.5 12.5 6 15.5 9.5 C18.5 13 22 17.5 29 17.5" fill="none" stroke="currentColor" stroke-width="1.7"/></svg>exp<span style="display:inline-block;width:0.17em"></span><svg class="g" width="11" height="50" viewBox="0 0 11 50" style="vertical-align:-14px"><path d="M9.5 1 C0.6 15.0 0.6 35.0 9.5 49" fill="none" stroke="currentColor" stroke-width="1.8" stroke-linecap="round"/></svg><span class="fr" style="font-size:0.62em"><span class="fw">1</span><span class="fn" style="top:-0.629em">1</span><span class="fb" style="top:-0.082em;border-top-width:1.4px"></span><span class="fd" style="top:0.258em"><i>τ</i></span></span><i>Q</i><span class="sb" style="font-size:0.7em;top:0.243em"><i>k</i></span><svg class="g" width="11" height="50" viewBox="0 0 11 50" style="vertical-align:-14px"><path d="M1.5 1 C10.4 15.0 10.4 35.0 1.5 49" fill="none" stroke="currentColor" stroke-width="1.8" stroke-linecap="round"/></svg></span> and <span class="m"><i>π</i><span class="ss" style="font-size:0.7em"><span class="su" style="top:-0.600em">KL</span><span class="sd" style="top:0.371em"><i>k</i>+1</span><span class="sw"><i>k</i>+1</span></span><svg class="g" width="30.0" height="19.0" viewBox="0 0 30 19" style="vertical-align:-1px;margin:0 10px 0 9px"><path d="M29 1.5 C22 1.5 18.5 6 15.5 9.5 C12.5 13 9.5 17.5 5.5 17.5 C2.5 17.5 1.2 14 1.2 9.5 C1.2 5 2.5 1.5 5.5 1.5 C9.5 1.5 12.5 6 15.5 9.5 C18.5 13 22 17.5 29 17.5" fill="none" stroke="currentColor" stroke-width="1.7"/></svg><i>μ</i><span style="display:inline-block;width:0.17em"></span>exp<span style="display:inline-block;width:0.17em"></span><svg class="g" width="11" height="50" viewBox="0 0 11 50" style="vertical-align:-14px"><path d="M9.5 1 C0.6 15.0 0.6 35.0 9.5 49" fill="none" stroke="currentColor" stroke-width="1.8" stroke-linecap="round"/></svg><span class="fr" style="font-size:0.62em"><span class="fw">1</span><span class="fn" style="top:-0.629em">1</span><span class="fb" style="top:-0.082em;border-top-width:1.4px"></span><span class="fd" style="top:0.258em"><i>τ</i></span></span><i>Q</i><span class="sb" style="font-size:0.7em;top:0.243em"><i>k</i></span><svg class="g" width="11" height="50" viewBox="0 0 11 50" style="vertical-align:-14px"><path d="M1.5 1 C10.4 15.0 10.4 35.0 1.5 49" fill="none" stroke="currentColor" stroke-width="1.8" stroke-linecap="round"/></svg></span>, respectively.</span></div>
<div class="ln" style="left:57.0px;top:1048.23px;font-size:42px;word-spacing:2.743px;transform:scaleX(1.0600);"><span>We consider a general class of regularizers for <span class="m">Ω</span> by Tsallis statistics [1] that extend the</span></div>
<div class="ln" style="left:57.0px;top:1095.23px;font-size:42px;word-spacing:-1.566px;transform:scaleX(1.0600);"><span>standard <span class="m">ln,<span style="display:inline-block;width:0.22em"></span>exp</span> to the <span class="m"><i>q</i></span>-logarithm/<span class="m"><i>q</i></span>-exponential:</span></div>
<div class="ln" style="left:324.7px;top:1201.53px;font-size:42px;letter-spacing:-2.243px;--ls:-2.243px;transform:scaleX(1.0600);"><span><span class="m">ln<span class="sb" style="font-size:0.7em;top:0.243em"><i>q</i></span><span style="display:inline-block;width:0.17em"></span><i>x</i><span style="display:inline-block;width:0.28em"></span>:=<span style="display:inline-block;width:0.28em"></span></span></span></div>
<div class="ln" style="left:458.5px;top:1173.63px;font-size:42px;letter-spacing:0.034px;--ls:0.034px;transform:scaleX(1.0600);"><span><span class="m"><i>x</i><span class="sb" style="font-size:0.7em;top:-0.543em">1−<i>q</i></span><span style="display:inline-block;width:0.22em"></span>−<span style="display:inline-block;width:0.22em"></span>1</span></span></div>
<div class="ln" style="left:486.0px;top:1228.53px;font-size:42px;letter-spacing:-1.152px;--ls:-1.152px;transform:scaleX(1.0600);"><span><span class="m">1<span style="display:inline-block;width:0.22em"></span>−<span style="display:inline-block;width:0.22em"></span><i>q</i></span></span></div>
<div class="ln" style="left:603.0px;top:1201.53px;font-size:42px;transform:scaleX(1.0600);"><span><span class="m">,</span></span></div>
<div class="ln" style="left:660.6px;top:1201.53px;font-size:42px;letter-spacing:-1.020px;--ls:-1.020px;transform:scaleX(1.0600);"><span><span class="m">exp<span class="sb" style="font-size:0.7em;top:0.243em"><i>q</i></span><span style="display:inline-block;width:0.17em"></span><i>x</i><span style="display:inline-block;width:0.28em"></span>:=<span style="display:inline-block;width:0.28em"></span>max{1<span style="display:inline-block;width:0.22em"></span>+<span style="display:inline-block;width:0.22em"></span>(1<span style="display:inline-block;width:0.22em"></span>−<span style="display:inline-block;width:0.22em"></span><i>q</i>)<i>x</i>,<span style="display:inline-block;width:0.17em"></span>0}</span></span></div>
<div class="ln" style="left:1204.5px;top:1179.45px;font-size:20px;"><span>1</span></div>
<div class="ln" style="left:1190.0px;top:1199.85px;font-size:20px;letter-spacing:2.906px;--ls:2.906px;"><span>1−<i>q</i></span></div>
<div class="ln" style="left:1239.0px;top:1201.53px;font-size:42px;transform:scaleX(1.0600);"><span><span class="m">,</span></span></div>
<div class="ln" style="left:1294.7px;top:1201.53px;font-size:42px;letter-spacing:-1.725px;--ls:-1.725px;transform:scaleX(1.0600);"><span><span class="m"><i>q</i><span style="display:inline-block;width:0.28em"></span>&gt;<span style="display:inline-block;width:0.28em"></span>0</span></span></div>
<div class="ln" style="left:459.8px;top:1282.43px;font-size:42px;letter-spacing:-1.032px;--ls:-1.032px;transform:scaleX(1.0600);"><span><span class="m">ln<span class="sb" style="font-size:0.7em;top:0.243em"><i>q</i></span><span style="display:inline-block;width:0.28em"></span>=<span style="display:inline-block;width:0.28em"></span>ln,</span></span></div>
<div class="ln" style="left:649.6px;top:1282.43px;font-size:42px;letter-spacing:-1.350px;--ls:-1.350px;transform:scaleX(1.0600);"><span><span class="m">exp<span class="sb" style="font-size:0.7em;top:0.243em"><i>q</i></span><span style="display:inline-block;width:0.28em"></span>=<span style="display:inline-block;width:0.28em"></span>exp</span></span></div>
<div class="ln" style="left:894.0px;top:1282.43px;font-size:42px;transform:scaleX(1.0600);"><span>when</span></div>
<div class="ln" style="left:1002.4px;top:1282.43px;font-size:42px;letter-spacing:-1.954px;--ls:-1.954px;transform:scaleX(1.0600);"><span><span class="m"><i>q</i><span style="display:inline-block;width:0.28em"></span>=<span style="display:inline-block;width:0.28em"></span>1.</span></span></div>
<div class="ln" style="left:57.0px;top:1361.73px;font-size:42px;word-spacing:-1.604px;transform:scaleX(1.0527);"><span>We consider Tsallis entropy <span class="m"><i>S</i><span class="sb" style="font-size:0.7em;top:0.243em"><i>q</i></span>(<i>π</i>)<span style="display:inline-block;width:0.28em"></span>:=<span style="display:inline-block;width:0.28em"></span>−<span style="display:inline-block;width:0.22em"></span><svg class="g" width="13" height="42" viewBox="0 0 13 42" style="vertical-align:-11px"><path d="M10.5 1.5 L2.5 21.0 L10.5 40.5" fill="none" stroke="currentColor" stroke-width="1.7" stroke-linejoin="miter"/></svg><i>π</i><span class="sb" style="font-size:0.7em;top:-0.514em"><i>q</i></span>,<span style="display:inline-block;width:0.17em"></span>ln<span class="sb" style="font-size:0.7em;top:0.243em"><i>q</i></span><span style="display:inline-block;width:0.17em"></span><i>π</i><svg class="g" width="13" height="42" viewBox="0 0 13 42" style="vertical-align:-11px"><path d="M2.5 1.5 L10.5 21.0 L2.5 40.5" fill="none" stroke="currentColor" stroke-width="1.7" stroke-linejoin="miter"/></svg></span> (generalizes Shannon entropy) and Tsallis</span></div>
<div class="ln" style="left:57.0px;top:1409.73px;font-size:42px;word-spacing:2.511px;transform:scaleX(1.0600);"><span>KL divergence <span class="m"><i>D</i><span class="ss" style="font-size:0.7em"><span class="su" style="top:-0.571em"><i>q</i></span><span class="sd" style="top:0.314em"><i>KL</i></span><span class="sw"><i>KL</i></span></span>(<i>π</i><span style="display:inline-block;width:0.17em"></span>‖<span style="display:inline-block;width:0.17em"></span><i>μ</i>) := −<span style="display:inline-block;width:0.22em"></span><svg class="g" width="14" height="50" viewBox="0 0 14 50" style="vertical-align:-15px"><path d="M11.5 1.5 L2.5 25.0 L11.5 48.5" fill="none" stroke="currentColor" stroke-width="1.7" stroke-linejoin="miter"/></svg><i>π</i>,<span style="display:inline-block;width:0.17em"></span>ln<span class="sb" style="font-size:0.7em;top:0.243em"><i>q</i></span><span style="display:inline-block;width:0.17em"></span><span class="fr" style="font-size:0.62em"><span class="fw"><i>μ</i></span><span class="fn" style="top:-0.710em"><i>μ</i></span><span class="fb" style="top:-0.082em;border-top-width:1.4px"></span><span class="fd" style="top:0.161em"><i>π</i></span></span><svg class="g" width="14" height="50" viewBox="0 0 14 50" style="vertical-align:-15px"><path d="M2.5 1.5 L11.5 25.0 L2.5 48.5" fill="none" stroke="currentColor" stroke-width="1.7" stroke-linejoin="miter"/></svg></span> (generalizes KL divergence) as <span class="m">Ω</span>.&nbsp; They induce</span></div>
<div class="ln" style="left:57.0px;top:1455.73px;font-size:42px;word-spacing:-1.418px;transform:scaleX(1.0600);"><span>sparsemax policies that truncate actions with low values.</span></div>
<div class="ln" style="left:1718.0px;top:503.22px;font-size:42px;word-spacing:-1.604px;transform:scaleX(1.0562);"><span>We prove when <span class="m">Ω(<i>π</i>)<span style="display:inline-block;width:0.28em"></span>=<span style="display:inline-block;width:0.28em"></span><i>D</i><span class="ss" style="font-size:0.7em"><span class="su" style="top:-0.571em"><i>q</i></span><span class="sd" style="top:0.314em"><i>KL</i></span><span class="sw"><i>KL</i></span></span>(<i>π</i><span style="display:inline-block;width:0.17em"></span>‖<span style="display:inline-block;width:0.17em"></span><i>μ</i>)</span>, the regularized optimal policy is <span class="m"><i>π</i><span class="ss" style="font-size:0.7em"><span class="su" style="top:-0.600em">TKL</span><span class="sd" style="top:0.371em"><i>k</i>+1</span><span class="sw">TKL</span></span><svg class="g" width="30.0" height="19.0" viewBox="0 0 30 19" style="vertical-align:-1px;margin:0 10px 0 9px"><path d="M29 1.5 C22 1.5 18.5 6 15.5 9.5 C12.5 13 9.5 17.5 5.5 17.5 C2.5 17.5 1.2 14 1.2 9.5 C1.2 5 2.5 1.5 5.5 1.5 C9.5 1.5 12.5 6 15.5 9.5 C18.5 13 22 17.5 29 17.5" fill="none" stroke="currentColor" stroke-width="1.7"/></svg><i>μ</i><span style="display:inline-block;width:0.17em"></span>exp<span class="sb" style="font-size:0.7em;top:0.243em"><i>q</i></span><span style="display:inline-block;width:0.17em"></span>(<i>Q</i><span class="sb" style="font-size:0.7em;top:0.243em"><i>k</i></span>)</span>. As</span></div>
<div class="ln" style="left:1718.0px;top:549.93px;font-size:42px;word-spacing:-1.566px;transform:scaleX(1.0600);"><span>is typical for the KL case, when <span class="m"><i>μ</i><span style="display:inline-block;width:0.28em"></span>=<span style="display:inline-block;width:0.28em"></span><i>π</i><span class="sb" style="font-size:0.7em;top:0.243em"><i>k</i></span></span>, we can expand it as:</span></div>
<div class="ln" style="left:1718.0px;top:837.12px;font-size:42px;word-spacing:-1.551px;transform:scaleX(1.0600);"><span>The first term is similar to KL policy <span class="m"><i>π</i><span class="ss" style="font-size:0.7em"><span class="su" style="top:-0.600em">KL</span><span class="sd" style="top:0.371em"><i>k</i>+1</span><span class="sw"><i>k</i>+1</span></span><svg class="g" width="30.0" height="19.0" viewBox="0 0 30 19" style="vertical-align:-1px;margin:0 10px 0 9px"><path d="M29 1.5 C22 1.5 18.5 6 15.5 9.5 C12.5 13 9.5 17.5 5.5 17.5 C2.5 17.5 1.2 14 1.2 9.5 C1.2 5 2.5 1.5 5.5 1.5 C9.5 1.5 12.5 6 15.5 9.5 C18.5 13 22 17.5 29 17.5" fill="none" stroke="currentColor" stroke-width="1.7"/></svg>exp<span style="display:inline-block;width:0.17em"></span><svg class="g" width="17" height="72" viewBox="0 0 17 72" style="vertical-align:-26px"><path d="M15.5 1 C0.9 21.6 0.9 50.4 15.5 71" fill="none" stroke="currentColor" stroke-width="2.0" stroke-linecap="round"/></svg><span style="font-size:1.25em;position:relative;top:0.06em">∑</span><span class="ss" style="font-size:0.7em"><span class="su" style="top:-0.714em"><i>k</i></span><span class="sd" style="top:0.400em"><i>j</i>=1</span><span class="sw"><i>j</i>=1</span></span><span style="display:inline-block;width:0.17em"></span><i>Q</i><span class="sb" style="font-size:0.7em;top:0.243em"><i>j</i></span><svg class="g" width="17" height="72" viewBox="0 0 17 72" style="vertical-align:-26px"><path d="M1.5 1 C16.1 21.6 16.1 50.4 1.5 71" fill="none" stroke="currentColor" stroke-width="2.0" stroke-linecap="round"/></svg></span> which averages over past action</span></div>
<div class="ln" style="left:1718.0px;top:894.73px;font-size:42px;word-spacing:-1.604px;transform:scaleX(1.0506);"><span>values but inside <span class="m"><i>q</i></span>-exponential; the second cross-product term magnifies consistently large</span></div>
<div class="ln" style="left:1718.0px;top:941.23px;font-size:42px;word-spacing:-1.596px;transform:scaleX(1.0490);"><span>action values across iterations.</span></div>
<div class="ln" style="left:1718.0px;top:988.23px;font-size:42px;word-spacing:0.085px;transform:scaleX(1.0600);"><span>We propose to perform implicit Tsallis KL regularization using the Munchausen trick [2],</span></div>
<div class="ln" style="left:1718.0px;top:1034.73px;font-size:42px;word-spacing:-0.193px;transform:scaleX(1.0600);"><span>adding <span class="m"><i>α</i><i>τ</i><span style="display:inline-block;width:0.17em"></span>ln<span class="sb" style="font-size:0.7em;top:0.243em"><i>q</i></span><span style="display:inline-block;width:0.17em"></span><i>π</i><span class="sb" style="font-size:0.7em;top:0.243em"><i>k</i>+1</span></span> to the reward function in the <span class="m"><i>S</i><span class="sb" style="font-size:0.7em;top:0.243em"><i>q</i></span>(<i>π</i>)</span> regularized policy evaluation step:</span></div>
<div class="ln" style="left:2076.7px;top:1114.43px;font-size:42px;letter-spacing:0.955px;--ls:0.955px;transform:scaleX(1.0600);"><span><span class="m"><i>Q</i><span class="sb" style="font-size:0.7em;top:0.243em"><i>k</i>+1</span><span style="display:inline-block;width:0.28em"></span>=<span style="display:inline-block;width:0.28em"></span><i>r</i><span style="display:inline-block;width:0.22em"></span>+<span style="display:inline-block;width:0.22em"></span><span style="color:#e00000"><i>α</i><i>τ</i><span style="display:inline-block;width:0.17em"></span>ln<span class="sb" style="font-size:0.7em;top:0.243em"><i>q</i></span><i>π</i><span class="sb" style="font-size:0.7em;top:0.243em"><i>k</i>+1</span></span><span style="display:inline-block;width:0.22em"></span>+<span style="display:inline-block;width:0.22em"></span><i>γ</i><i>P</i><span style="display:inline-block;width:0.17em"></span><svg class="g" width="13" height="42" viewBox="0 0 13 42" style="vertical-align:-11px"><path d="M10.5 1.5 L2.5 21.0 L10.5 40.5" fill="none" stroke="currentColor" stroke-width="1.7" stroke-linejoin="miter"/></svg><i>π</i><span class="sb" style="font-size:0.7em;top:0.243em"><i>k</i>+1</span>,<span style="display:inline-block;width:0.17em"></span><i>Q</i><span class="sb" style="font-size:0.7em;top:0.243em"><i>k</i></span><span style="display:inline-block;width:0.22em"></span>+<span style="display:inline-block;width:0.22em"></span><i>τ</i><span style="color:#1010e0"><i>S</i><span class="sb" style="font-size:0.7em;top:0.243em"><i>q</i></span><span style="display:inline-block;width:0.17em"></span>(<i>π</i><span class="sb" style="font-size:0.7em;top:0.243em"><i>k</i>+1</span>)</span><svg class="g" width="13" height="42" viewBox="0 0 13 42" style="vertical-align:-11px"><path d="M2.5 1.5 L10.5 21.0 L2.5 40.5" fill="none" stroke="currentColor" stroke-width="1.7" stroke-linejoin="miter"/></svg></span></span></div>
<div class="ln" style="left:1718.0px;top:1194.13px;font-size:42px;word-spacing:-1.595px;transform:scaleX(1.0435);color:#1c1c1c;"><span>The resulting algorithm is called Munchausen Value Iteration <span class="m"><i>q</i></span> (MVI-<span class="m"><i>q</i></span>).</span></div>
<div class="ln" style="left:1718.0px;top:1368.73px;font-size:42px;word-spacing:-1.605px;transform:scaleX(1.0268);"><span>We compare MVI-<span class="m">(<i>q</i><span style="display:inline-block;width:0.28em"></span>=<span style="display:inline-block;width:0.28em"></span>2)</span> against MVI, Tsallis-VI (choosing <span class="m">Ω(<i>π</i>)</span> as negative Tsallis entropy</span></div>
<div class="ln" style="left:1718.0px;top:1414.43px;font-size:42px;word-spacing:-1.282px;transform:scaleX(1.0600);"><span><span class="m">−<i>S</i><span class="sb" style="font-size:0.7em;top:0.243em"><i>q</i></span>(<i>π</i>))</span> on Atari games. Significant improvement has been shown on some of the games.</span></div>
<div class="ln" style="left:59.5px;top:2139.42px;font-size:34.3px;word-spacing:-0.053px;color:#1c1c1c;"><span>[1]&nbsp; C. Tsallis. <i>Introduction to Nonextensive Statistical Mechanics: Approaching a Complex World</i>. Springer New York, 2009.</span></div>
<div class="ln" style="left:59.5px;top:2206.02px;font-size:34.3px;word-spacing:2.766px;color:#1c1c1c;"><span>[2]&nbsp; N. Vieillard, O. Pietquin, and M. Geist. Munchausen reinforcement learning. In <i>Advances in Neural Information Processing Systems 33</i>, pages 1–11. 2020.</span></div>
<div class="ln" style="left:2549.7px;top:2107.55px;font-size:36px;word-spacing:1.806px;"><span>Department of Computing Science</span></div>
<div class="ln" style="left:2549.7px;top:2147.55px;font-size:36px;word-spacing:2.178px;"><span>University of Alberta</span></div>
<div class="ln" style="left:2549.7px;top:2187.25px;font-size:36px;letter-spacing:0.078px;--ls:0.078px;"><span>lingwei.andrew.zhu@gmail.com</span></div>
<div class="ln" style="left:1827.2px;top:692.43px;font-size:42px;letter-spacing:-1.774px;--ls:-1.774px;transform:scaleX(1.0600);"><span><span class="m"><i>π</i><span class="ss" style="font-size:0.7em"><span class="su" style="top:-0.600em">TKL</span><span class="sd" style="top:0.371em"><i>k</i>+1</span><span class="sw">TKL</span></span><svg class="g" width="30.0" height="19.0" viewBox="0 0 30 19" style="vertical-align:-1px;margin:0 10px 0 9px"><path d="M29 1.5 C22 1.5 18.5 6 15.5 9.5 C12.5 13 9.5 17.5 5.5 17.5 C2.5 17.5 1.2 14 1.2 9.5 C1.2 5 2.5 1.5 5.5 1.5 C9.5 1.5 12.5 6 15.5 9.5 C18.5 13 22 17.5 29 17.5" fill="none" stroke="currentColor" stroke-width="1.7"/></svg><svg class="g" width="12" height="48" viewBox="0 0 12 48" style="vertical-align:-13px"><path d="M10.5 1 C0.6 14.4 0.6 33.6 10.5 47" fill="none" stroke="currentColor" stroke-width="1.9" stroke-linecap="round"/></svg>exp<span class="sb" style="font-size:0.7em;top:0.243em"><i>q</i></span><i>Q</i><span class="sb" style="font-size:0.7em;top:0.243em">1</span><span style="display:inline-block;width:0.17em"></span>·<span style="display:inline-block;width:0.17em"></span>·<span style="display:inline-block;width:0.17em"></span>·<span style="display:inline-block;width:0.17em"></span>exp<span class="sb" style="font-size:0.7em;top:0.243em"><i>q</i></span><i>Q</i><span class="sb" style="font-size:0.7em;top:0.243em"><i>k</i></span><svg class="g" width="12" height="48" viewBox="0 0 12 48" style="vertical-align:-13px"><path d="M1.5 1 C11.4 14.4 11.4 33.6 1.5 47" fill="none" stroke="currentColor" stroke-width="1.9" stroke-linecap="round"/></svg><span style="display:inline-block;width:0.28em"></span>=<span style="display:inline-block;width:0.28em"></span></span></span></div>
<div class="ln" style="left:2377.3px;top:692.43px;font-size:42px;letter-spacing:-2.367px;--ls:-2.367px;transform:scaleX(1.0600);"><span><span class="m">exp<span class="sb" style="font-size:0.7em;top:0.243em"><i>q</i></span></span></span></div>
<div class="ln" style="left:2204.8px;top:646.35px;font-size:28px;width:600px;text-align:center;"><span><i>k</i></span></div>
<div class="ln" style="left:2480.5px;top:743.05px;font-size:28px;letter-spacing:3.469px;--ls:3.469px;"><span><i>j</i>=1</span></div>
<div class="ln" style="left:2541.3px;top:692.43px;font-size:42px;letter-spacing:-0.358px;--ls:-0.358px;transform:scaleX(1.0600);"><span><span class="m"><i>Q</i><span class="sb" style="font-size:0.7em;top:0.243em"><i>j</i></span></span></span></div>
<div class="ln" style="left:2617.9px;top:637.15px;font-size:28px;letter-spacing:1.430px;--ls:1.430px;"><span><i>q</i>−1</span></div>
<div class="ln" style="left:2618.4px;top:692.43px;font-size:42px;transform:scaleX(1.0600);"><span><span class="m">+</span></span></div>
<div class="ln" style="left:2385.8px;top:646.35px;font-size:28px;width:600px;text-align:center;"><span><i>k</i></span></div>
<div class="ln" style="left:2661.3px;top:743.05px;font-size:28px;letter-spacing:3.709px;--ls:3.709px;"><span><i>j</i>=2</span></div>
<div class="ln" style="left:2716.4px;top:692.43px;font-size:42px;letter-spacing:-1.944px;--ls:-1.944px;transform:scaleX(1.0600);"><span><span class="m">(<i>q</i><span style="display:inline-block;width:0.22em"></span>−<span style="display:inline-block;width:0.22em"></span>1)<span style="display:inline-block;width:0.17em"></span><span class="sb" style="font-size:0.7em;top:-0.571em"><i>j</i></span></span></span></div>
<div class="ln" style="left:2581.4px;top:647.05px;font-size:28px;width:600px;text-align:center;"><span><i>k</i></span></div>
<div class="ln" style="left:2807.2px;top:744.05px;font-size:28px;letter-spacing:2.318px;--ls:2.318px;"><span><i>i</i><span class="sb" style="font-size:0.72em;top:0.250em">1</span>=1&lt;···&lt;<i>i</i><span class="sb" style="font-size:0.72em;top:0.250em"><i>j</i></span></span></div>
<div class="ln" style="left:2937.8px;top:692.43px;font-size:42px;letter-spacing:-2.111px;--ls:-2.111px;transform:scaleX(1.0600);"><span><span class="m"><i>Q</i><span class="sb" style="font-size:0.7em;top:0.243em"><i>i</i><span class="sb" style="font-size:0.75em;top:0.200em">1</span></span><span style="display:inline-block;width:0.22em"></span>·<span style="display:inline-block;width:0.17em"></span>·<span style="display:inline-block;width:0.17em"></span>·<span style="display:inline-block;width:0.22em"></span><i>Q</i><span class="sb" style="font-size:0.7em;top:0.243em"><i>i</i><span class="sb" style="font-size:0.75em;top:0.200em"><i>j</i></span></span></span></span></div>
<div class="ln" style="left:2860.0px;top:617.45px;font-size:20px;width:600px;text-align:center;"><span>1</span></div>
<div class="ln" style="left:3139.5px;top:639.45px;font-size:20px;letter-spacing:3.568px;--ls:3.568px;"><span><i>q</i>−1</span></div>
<div class="ln" style="left:3195.0px;top:692.73px;font-size:42px;transform:scaleX(1.0600);"><span><span class="m">.</span></span></div>
</div></body></html>
